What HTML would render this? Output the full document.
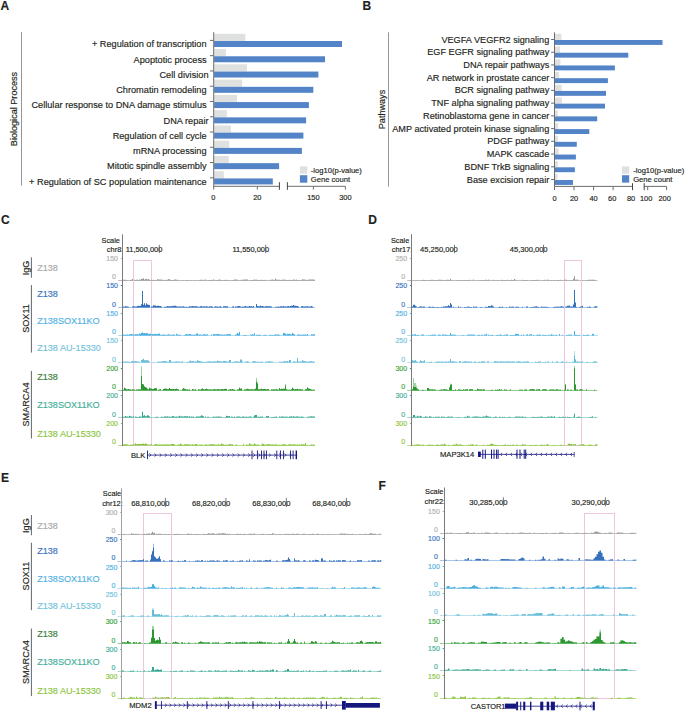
<!DOCTYPE html>
<html><head><meta charset="utf-8"><style>
html,body{margin:0;padding:0;background:#fff;}
svg{display:block;font-family:"Liberation Sans", sans-serif;}
text{stroke-width:0.16px;}
</style></head><body>
<svg width="685" height="712" viewBox="0 0 685 712">
<rect width="685" height="712" fill="#fff"/>
<text x="0.6" y="9.8" font-size="12" fill="#231f20" stroke="#231f20" font-weight="bold">A</text>
<text transform="translate(17.2,109) rotate(-90)" font-size="9.1" fill="#231f20" stroke="#231f20" text-anchor="middle">Biological Process</text>
<line x1="21.5" y1="32" x2="21.5" y2="185.6" stroke="#8a8a8a" stroke-width="0.9"/>
<rect x="214.1" y="33.8" width="31.2" height="7.2" fill="#dfe0e0"/>
<rect x="214.1" y="41" width="127.9" height="6" fill="#5284c7"/>
<line x1="210" y1="40.4" x2="213.8" y2="40.4" stroke="#444" stroke-width="0.8"/>
<text x="206.6" y="47.3" font-size="9.2" fill="#231f20" stroke="#231f20" text-anchor="end">+ Regulation of transcription</text>
<rect x="214.1" y="49.07" width="11.8" height="7.2" fill="#dfe0e0"/>
<rect x="214.1" y="56.27" width="110.9" height="6" fill="#5284c7"/>
<line x1="210" y1="55.67" x2="213.8" y2="55.67" stroke="#444" stroke-width="0.8"/>
<text x="206.6" y="62.57" font-size="9.2" fill="#231f20" stroke="#231f20" text-anchor="end">Apoptotic process</text>
<rect x="214.1" y="64.34" width="32.9" height="7.2" fill="#dfe0e0"/>
<rect x="214.1" y="71.54" width="104.3" height="6" fill="#5284c7"/>
<line x1="210" y1="70.94" x2="213.8" y2="70.94" stroke="#444" stroke-width="0.8"/>
<text x="208.5" y="77.84" font-size="9.2" fill="#231f20" stroke="#231f20" text-anchor="end">Cell division</text>
<rect x="214.1" y="79.61" width="28.1" height="7.2" fill="#dfe0e0"/>
<rect x="214.1" y="86.81" width="99.2" height="6" fill="#5284c7"/>
<line x1="210" y1="86.21" x2="213.8" y2="86.21" stroke="#444" stroke-width="0.8"/>
<text x="206.6" y="93.11" font-size="9.2" fill="#231f20" stroke="#231f20" text-anchor="end">Chromatin remodeling</text>
<rect x="214.1" y="94.88" width="22.9" height="7.2" fill="#dfe0e0"/>
<rect x="214.1" y="102.08" width="94.8" height="6" fill="#5284c7"/>
<line x1="210" y1="101.48" x2="213.8" y2="101.48" stroke="#444" stroke-width="0.8"/>
<text x="206.6" y="108.38" font-size="9.2" fill="#231f20" stroke="#231f20" text-anchor="end">Cellular response to DNA damage stimulus</text>
<rect x="214.1" y="110.15" width="12.8" height="7.2" fill="#dfe0e0"/>
<rect x="214.1" y="117.35" width="92" height="6" fill="#5284c7"/>
<line x1="210" y1="116.75" x2="213.8" y2="116.75" stroke="#444" stroke-width="0.8"/>
<text x="208.5" y="123.65" font-size="9.2" fill="#231f20" stroke="#231f20" text-anchor="end">DNA repair</text>
<rect x="214.1" y="125.42" width="16.9" height="7.2" fill="#dfe0e0"/>
<rect x="214.1" y="132.62" width="89.3" height="6" fill="#5284c7"/>
<line x1="210" y1="132.02" x2="213.8" y2="132.02" stroke="#444" stroke-width="0.8"/>
<text x="206.6" y="138.92" font-size="9.2" fill="#231f20" stroke="#231f20" text-anchor="end">Regulation of cell cycle</text>
<rect x="214.1" y="140.69" width="15.1" height="7.2" fill="#dfe0e0"/>
<rect x="214.1" y="147.89" width="87.8" height="6" fill="#5284c7"/>
<line x1="210" y1="147.29" x2="213.8" y2="147.29" stroke="#444" stroke-width="0.8"/>
<text x="206.6" y="154.19" font-size="9.2" fill="#231f20" stroke="#231f20" text-anchor="end">mRNA processing</text>
<rect x="214.1" y="155.96" width="14.7" height="7.2" fill="#dfe0e0"/>
<rect x="214.1" y="163.16" width="65" height="6" fill="#5284c7"/>
<line x1="210" y1="162.56" x2="213.8" y2="162.56" stroke="#444" stroke-width="0.8"/>
<text x="206.6" y="169.46" font-size="9.2" fill="#231f20" stroke="#231f20" text-anchor="end">Mitotic spindle assembly</text>
<rect x="214.1" y="171.23" width="9.7" height="7.2" fill="#dfe0e0"/>
<rect x="214.1" y="178.43" width="58.7" height="6" fill="#5284c7"/>
<line x1="210" y1="177.83" x2="213.8" y2="177.83" stroke="#444" stroke-width="0.8"/>
<text x="206.6" y="184.73" font-size="9.2" fill="#231f20" stroke="#231f20" text-anchor="end">+ Regulation of SC population maintenance</text>
<line x1="213.7" y1="32.2" x2="213.7" y2="189.6" stroke="#6d6d6d" stroke-width="1"/>
<line x1="213.7" y1="186.3" x2="279.4" y2="186.3" stroke="#6d6d6d" stroke-width="1"/>
<line x1="287.4" y1="186.3" x2="345.4" y2="186.3" stroke="#6d6d6d" stroke-width="1"/>
<line x1="257.3" y1="186.3" x2="257.3" y2="189.6" stroke="#6d6d6d" stroke-width="1"/>
<line x1="313.4" y1="186.3" x2="313.4" y2="189.6" stroke="#6d6d6d" stroke-width="1"/>
<line x1="345.4" y1="186.3" x2="345.4" y2="189.6" stroke="#6d6d6d" stroke-width="1"/>
<line x1="279.4" y1="182.2" x2="279.4" y2="189.8" stroke="#444" stroke-width="1"/>
<line x1="287.4" y1="182.2" x2="287.4" y2="189.8" stroke="#444" stroke-width="1"/>
<text x="213.3" y="199.6" font-size="7.4" fill="#231f20" stroke="#231f20" text-anchor="middle">0</text>
<text x="257.3" y="199.6" font-size="7.4" fill="#231f20" stroke="#231f20" text-anchor="middle">20</text>
<text x="313.4" y="199.6" font-size="7.4" fill="#231f20" stroke="#231f20" text-anchor="middle">150</text>
<text x="345.4" y="199.6" font-size="7.4" fill="#231f20" stroke="#231f20" text-anchor="middle">300</text>
<rect x="299.9" y="166.4" width="7.4" height="7.3" fill="#dfe0e0"/>
<rect x="299.9" y="175.2" width="7.4" height="7.5" fill="#5284c7"/>
<text x="310.8" y="172.9" font-size="7.6" fill="#231f20" stroke="#231f20">-log10(p-value)</text>
<text x="310.8" y="182.3" font-size="7.6" fill="#231f20" stroke="#231f20">Gene count</text>
<text x="362.6" y="9.8" font-size="12" fill="#231f20" stroke="#231f20" font-weight="bold">B</text>
<text transform="translate(385.2,109.5) rotate(-90)" font-size="9.1" fill="#231f20" stroke="#231f20" text-anchor="middle">Pathways</text>
<line x1="388.5" y1="32.3" x2="388.5" y2="186.6" stroke="#8a8a8a" stroke-width="0.9"/>
<rect x="554.9" y="33.8" width="6.5" height="6.1" fill="#dfe0e0"/>
<rect x="554.9" y="40" width="107.6" height="4.9" fill="#5284c7"/>
<line x1="551.1" y1="39.5" x2="554.5" y2="39.5" stroke="#444" stroke-width="0.8"/>
<text x="549.3" y="42.5" font-size="9.17" fill="#231f20" stroke="#231f20" text-anchor="end">VEGFA VEGFR2 signaling</text>
<rect x="554.9" y="46.53" width="5.1" height="6.1" fill="#dfe0e0"/>
<rect x="554.9" y="52.73" width="73.4" height="4.9" fill="#5284c7"/>
<line x1="551.1" y1="52.23" x2="554.5" y2="52.23" stroke="#444" stroke-width="0.8"/>
<text x="549.3" y="55.23" font-size="9.17" fill="#231f20" stroke="#231f20" text-anchor="end">EGF EGFR signaling pathway</text>
<rect x="554.9" y="59.26" width="5.5" height="6.1" fill="#dfe0e0"/>
<rect x="554.9" y="65.46" width="60" height="4.9" fill="#5284c7"/>
<line x1="551.1" y1="64.96" x2="554.5" y2="64.96" stroke="#444" stroke-width="0.8"/>
<text x="549.3" y="67.96" font-size="9.17" fill="#231f20" stroke="#231f20" text-anchor="end">DNA repair pathways</text>
<rect x="554.9" y="71.99" width="4.2" height="6.1" fill="#dfe0e0"/>
<rect x="554.9" y="78.19" width="53" height="4.9" fill="#5284c7"/>
<line x1="551.1" y1="77.69" x2="554.5" y2="77.69" stroke="#444" stroke-width="0.8"/>
<text x="549.3" y="80.69" font-size="9.17" fill="#231f20" stroke="#231f20" text-anchor="end">AR network in prostate cancer</text>
<rect x="554.9" y="84.72" width="6.7" height="6.1" fill="#dfe0e0"/>
<rect x="554.9" y="90.92" width="51.1" height="4.9" fill="#5284c7"/>
<line x1="551.1" y1="90.42" x2="554.5" y2="90.42" stroke="#444" stroke-width="0.8"/>
<text x="549.3" y="93.42" font-size="9.17" fill="#231f20" stroke="#231f20" text-anchor="end">BCR signaling pathway</text>
<rect x="554.9" y="97.45" width="7" height="6.1" fill="#dfe0e0"/>
<rect x="554.9" y="103.65" width="50.1" height="4.9" fill="#5284c7"/>
<line x1="551.1" y1="103.15" x2="554.5" y2="103.15" stroke="#444" stroke-width="0.8"/>
<text x="549.3" y="106.15" font-size="9.17" fill="#231f20" stroke="#231f20" text-anchor="end">TNF alpha signaling pathway</text>
<rect x="554.9" y="110.18" width="2.9" height="6.1" fill="#dfe0e0"/>
<rect x="554.9" y="116.38" width="42.3" height="4.9" fill="#5284c7"/>
<line x1="551.1" y1="115.88" x2="554.5" y2="115.88" stroke="#444" stroke-width="0.8"/>
<text x="549.3" y="118.88" font-size="9.17" fill="#231f20" stroke="#231f20" text-anchor="end">Retinoblastoma gene in cancer</text>
<rect x="554.9" y="122.91" width="3.3" height="6.1" fill="#dfe0e0"/>
<rect x="554.9" y="129.11" width="34.4" height="4.9" fill="#5284c7"/>
<line x1="551.1" y1="128.61" x2="554.5" y2="128.61" stroke="#444" stroke-width="0.8"/>
<text x="549.3" y="131.61" font-size="9.17" fill="#231f20" stroke="#231f20" text-anchor="end">AMP activated protein kinase signaling</text>
<rect x="554.9" y="135.64" width="2.9" height="6.1" fill="#dfe0e0"/>
<rect x="554.9" y="141.84" width="21.9" height="4.9" fill="#5284c7"/>
<line x1="551.1" y1="141.34" x2="554.5" y2="141.34" stroke="#444" stroke-width="0.8"/>
<text x="549.3" y="144.34" font-size="9.17" fill="#231f20" stroke="#231f20" text-anchor="end">PDGF pathway</text>
<rect x="554.9" y="148.37" width="3.8" height="6.1" fill="#dfe0e0"/>
<rect x="554.9" y="154.57" width="21" height="4.9" fill="#5284c7"/>
<line x1="551.1" y1="154.07" x2="554.5" y2="154.07" stroke="#444" stroke-width="0.8"/>
<text x="549.3" y="157.07" font-size="9.17" fill="#231f20" stroke="#231f20" text-anchor="end">MAPK cascade</text>
<rect x="554.9" y="161.1" width="2.9" height="6.1" fill="#dfe0e0"/>
<rect x="554.9" y="167.3" width="20" height="4.9" fill="#5284c7"/>
<line x1="551.1" y1="166.8" x2="554.5" y2="166.8" stroke="#444" stroke-width="0.8"/>
<text x="549.3" y="169.8" font-size="9.17" fill="#231f20" stroke="#231f20" text-anchor="end">BDNF TrkB signaling</text>
<rect x="554.9" y="173.83" width="2.6" height="6.1" fill="#dfe0e0"/>
<rect x="554.9" y="180.03" width="18.1" height="4.9" fill="#5284c7"/>
<line x1="551.1" y1="179.53" x2="554.5" y2="179.53" stroke="#444" stroke-width="0.8"/>
<text x="549.3" y="182.53" font-size="9.17" fill="#231f20" stroke="#231f20" text-anchor="end">Base excision repair</text>
<line x1="554.5" y1="32.4" x2="554.5" y2="190" stroke="#6d6d6d" stroke-width="1"/>
<line x1="554.5" y1="186.4" x2="632.5" y2="186.4" stroke="#6d6d6d" stroke-width="1"/>
<line x1="644.2" y1="186.4" x2="666.6" y2="186.4" stroke="#6d6d6d" stroke-width="1"/>
<line x1="574" y1="186.4" x2="574" y2="190.2" stroke="#6d6d6d" stroke-width="1"/>
<line x1="593.6" y1="186.4" x2="593.6" y2="190.2" stroke="#6d6d6d" stroke-width="1"/>
<line x1="613.1" y1="186.4" x2="613.1" y2="190.2" stroke="#6d6d6d" stroke-width="1"/>
<line x1="647.7" y1="186.4" x2="647.7" y2="190.2" stroke="#6d6d6d" stroke-width="1"/>
<line x1="666.6" y1="186.4" x2="666.6" y2="190.2" stroke="#6d6d6d" stroke-width="1"/>
<line x1="632.5" y1="183.2" x2="632.5" y2="190.2" stroke="#444" stroke-width="1"/>
<line x1="644.2" y1="183.2" x2="644.2" y2="190.2" stroke="#444" stroke-width="1"/>
<text x="554.5" y="200.5" font-size="7.4" fill="#231f20" stroke="#231f20" text-anchor="middle">0</text>
<text x="574" y="200.5" font-size="7.4" fill="#231f20" stroke="#231f20" text-anchor="middle">20</text>
<text x="593.6" y="200.5" font-size="7.4" fill="#231f20" stroke="#231f20" text-anchor="middle">40</text>
<text x="612.2" y="200.5" font-size="7.4" fill="#231f20" stroke="#231f20" text-anchor="middle">60</text>
<text x="631" y="200.5" font-size="7.4" fill="#231f20" stroke="#231f20" text-anchor="middle">80</text>
<text x="646.1" y="200.5" font-size="7.4" fill="#231f20" stroke="#231f20" text-anchor="middle">100</text>
<text x="664.6" y="200.5" font-size="7.4" fill="#231f20" stroke="#231f20" text-anchor="middle">200</text>
<rect x="622" y="166.4" width="7.2" height="7.3" fill="#dfe0e0"/>
<rect x="622" y="175.2" width="7.2" height="7.4" fill="#5284c7"/>
<text x="633.2" y="172.9" font-size="7.6" fill="#231f20" stroke="#231f20">-log10(p-value)</text>
<text x="633.2" y="181.9" font-size="7.6" fill="#231f20" stroke="#231f20">Gene count</text>
<text x="0.9" y="223.8" font-size="12" fill="#231f20" stroke="#231f20" font-weight="bold">C</text>
<line x1="31.4" y1="257.4" x2="31.4" y2="277.7" stroke="#555" stroke-width="0.9"/>
<line x1="31.4" y1="285.1" x2="31.4" y2="352.6" stroke="#555" stroke-width="0.9"/>
<line x1="31.4" y1="371" x2="31.4" y2="438.5" stroke="#555" stroke-width="0.9"/>
<text transform="translate(28.6,268) rotate(-90)" font-size="9.1" fill="#231f20" stroke="#231f20" text-anchor="middle">IgG</text>
<text transform="translate(28.8,318.5) rotate(-90)" font-size="9.1" fill="#231f20" stroke="#231f20" text-anchor="middle">SOX11</text>
<text transform="translate(28.8,404.5) rotate(-90)" font-size="9.1" fill="#231f20" stroke="#231f20" text-anchor="middle">SMARCA4</text>
<text x="37.2" y="271.2" font-size="9.1" fill="#a9a9a9" stroke="#a9a9a9">Z138</text>
<text x="37.2" y="296.7" font-size="9.1" fill="#3e74be" stroke="#3e74be">Z138</text>
<text x="37.2" y="324.4" font-size="9.1" fill="#52b3e4" stroke="#52b3e4">Z138SOX11KO</text>
<text x="37.2" y="351" font-size="9.1" fill="#74c3da" stroke="#74c3da">Z138 AU-15330</text>
<text x="37.2" y="379.6" font-size="9.1" fill="#3c803c" stroke="#3c803c">Z138</text>
<text x="37.2" y="407.6" font-size="9.1" fill="#45af9a" stroke="#45af9a">Z138SOX11KO</text>
<text x="37.2" y="436.5" font-size="9.1" fill="#8dc642" stroke="#8dc642">Z138 AU-15330</text>
<line x1="118.1" y1="280.5" x2="315" y2="280.5" stroke="#bcbcbc" stroke-width="1"/>
<line x1="118.1" y1="307.5" x2="315" y2="307.5" stroke="#a9c5e8" stroke-width="1"/>
<line x1="118.1" y1="335.5" x2="315" y2="335.5" stroke="#b2ddf2" stroke-width="1"/>
<line x1="118.1" y1="362.5" x2="315" y2="362.5" stroke="#bce2ee" stroke-width="1"/>
<line x1="118.1" y1="390.5" x2="315" y2="390.5" stroke="#92cf95" stroke-width="1"/>
<line x1="118.1" y1="417.5" x2="315" y2="417.5" stroke="#a9dad0" stroke-width="1"/>
<line x1="118.1" y1="445.5" x2="315" y2="445.5" stroke="#b8dc85" stroke-width="1"/>
<rect x="133.5" y="260.5" width="18" height="185" fill="none" stroke="#eec6e0" stroke-width="1"/>
<text x="119.9" y="242.7" font-size="7.35" fill="#231f20" stroke="#231f20" text-anchor="end">Scale</text>
<text x="123.3" y="251.9" font-size="7.4" fill="#231f20" stroke="#231f20" text-anchor="end">chr8:</text>
<line x1="122.5" y1="234.3" x2="122.5" y2="446.08" stroke="#7a7a7a" stroke-width="1"/>
<text x="125.7" y="251.9" font-size="7.45" fill="#231f20" stroke="#231f20">11,500,000</text>
<line x1="159.3" y1="244.8" x2="159.3" y2="253.2" stroke="#555" stroke-width="0.8"/>
<text x="232.4" y="251.9" font-size="7.45" fill="#231f20" stroke="#231f20">11,550,000</text>
<line x1="265.7" y1="244.8" x2="265.7" y2="253.2" stroke="#555" stroke-width="0.8"/>
<text x="118" y="261" font-size="7" fill="#b0b0b0" stroke="#b0b0b0" text-anchor="end">150</text>
<text x="116" y="279.1" font-size="7" fill="#b0b0b0" stroke="#b0b0b0" text-anchor="end">0</text>
<line x1="120.8" y1="258.5" x2="122" y2="258.5" stroke="#b0b0b0" stroke-width="1"/>
<text x="118" y="288.48" font-size="7" fill="#3e74be" stroke="#3e74be" text-anchor="end">150</text>
<text x="116" y="306.58" font-size="7" fill="#3e74be" stroke="#3e74be" text-anchor="end">0</text>
<line x1="120.8" y1="285.5" x2="122" y2="285.5" stroke="#3e74be" stroke-width="1"/>
<text x="118" y="315.96" font-size="7" fill="#52b3e4" stroke="#52b3e4" text-anchor="end">150</text>
<text x="116" y="334.06" font-size="7" fill="#52b3e4" stroke="#52b3e4" text-anchor="end">0</text>
<line x1="120.8" y1="313.5" x2="122" y2="313.5" stroke="#52b3e4" stroke-width="1"/>
<text x="118" y="343.44" font-size="7" fill="#74c3da" stroke="#74c3da" text-anchor="end">150</text>
<text x="116" y="361.54" font-size="7" fill="#74c3da" stroke="#74c3da" text-anchor="end">0</text>
<line x1="120.8" y1="340.5" x2="122" y2="340.5" stroke="#74c3da" stroke-width="1"/>
<text x="118" y="370.92" font-size="7" fill="#3ca53c" stroke="#3ca53c" text-anchor="end">200</text>
<text x="116" y="389.02" font-size="7" fill="#3ca53c" stroke="#3ca53c" text-anchor="end">0</text>
<line x1="120.8" y1="368.5" x2="122" y2="368.5" stroke="#3ca53c" stroke-width="1"/>
<text x="118" y="398.4" font-size="7" fill="#45af9a" stroke="#45af9a" text-anchor="end">200</text>
<text x="116" y="416.5" font-size="7" fill="#45af9a" stroke="#45af9a" text-anchor="end">0</text>
<line x1="120.8" y1="395.5" x2="122" y2="395.5" stroke="#45af9a" stroke-width="1"/>
<text x="118" y="425.88" font-size="7" fill="#8dc642" stroke="#8dc642" text-anchor="end">200</text>
<text x="116" y="443.98" font-size="7" fill="#8dc642" stroke="#8dc642" text-anchor="end">0</text>
<line x1="120.8" y1="423.5" x2="122" y2="423.5" stroke="#8dc642" stroke-width="1"/>
<path d="M123,280.5V279.82H124V279.81H125V279.8H126V279.98H127V280.5H128V280.5H129V280.5H130V279.89H131V279.71H132V278.94H133V280.5H134V279.78H135V279.93H136V279.84H137V279.87H138V280.01H139V279.47H140V279.82H141V279.01H142V278.83H143V278.3H144V279.68H145V278.99H146V278.9H147V279.51H148V278.97H149V279.8H150V279.94H151V279.69H152V279.89H153V279.77H154V279.92H155V279.94H156V280.5H157V279.36H158V279.54H159V279.49H160V279.6H161V279.65H162V279.67H163V279.8H164V280.5H165V280.12H166V279.83H167V279.77H168V279.11H169V279.46H170V279.76H171V279.97H172V280.06H173V279.88H174V279.61H175V279.61H176V279.69H177V279.64H178V280.5H179V280.5H180V280.5H181V280.5H182V280.03H183V280.5H184V280.5H185V280.5H186V280.12H187V280.11H188V280.12H189V280.5H190V280.5H191V280.12H192V280.5H193V280.5H194V280.5H195V279.9H196V280.5H197V280.5H198V280.5H199V280.05H200V279.66H201V279.76H202V279.78H203V280.5H204V279.83H205V279.56H206V280.5H207V280.5H208V279.88H209V279.92H210V279.98H211V279.81H212V279.95H213V279.62H214V279.8H215V280.5H216V280.05H217V280.02H218V279.84H219V279.62H220V279.67H221V279.93H222V279.96H223V280.5H224V280.08H225V279.77H226V279.95H227V279.8H228V280.5H229V279.95H230V280.5H231V280.5H232V280.12H233V279.93H234V279.56H235V279.58H236V279.47H237V279.79H238V280.5H239V280.5H240V280.5H241V279.71H242V279.79H243V279.67H244V279.62H245V279.43H246V279.47H247V279.45H248V280.5H249V280.5H250V279.98H251V280.01H252V280.08H253V279.68H254V279.51H255V279.71H256V279.66H257V279.71H258V279.91H259V279.97H260V279.66H261V279.9H262V279.85H263V280.01H264V280.08H265V279.63H266V280.5H267V280.5H268V280.5H269V280.5H270V279.69H271V279.87H272V279.6H273V279.7H274V279.94H275V278.84H276V279.56H277V279.82H278V279.77H279V279.67H280V279.93H281V279.8H282V279.79H283V279.78H284V279.54H285V279.83H286V279.96H287V280.04H288V280.09H289V279.67H290V279.88H291V280.01H292V279.71H293V279.69H294V279.56H295V279.88H296V279.6H297V279.88H298V279.94H299V280.03H300V280.5H301V279.96H302V279.34H303V279.4H304V279.49H305V279.81H306V280.5H307V279.82H308V279.86H309V279.54H310V279.44H311V279.46H312V279.43H313V279.48H314V279.84H315V280.5Z" fill="#9a9a9a"/>
<path d="M123,307.5V306.39H124V306.71H125V306.3H126V306.34H127V306.46H128V306.73H129V307.5H130V307.5H131V307.5H132V306.51H133V306.1H134V306.49H135V306.52H136V306.46H137V306.02H138V305.63H139V305.95H140V305.86H141V304.31H142V290.9H143V304.63H144V303.2H145V305.24H146V303.2H147V304.61H148V304.75H149V305.11H150V307.5H151V306.47H152V306.58H153V305.31H154V305.58H155V305.4H156V305.9H157V305.85H158V305.7H159V305.9H160V305.97H161V306.58H162V307.5H163V307.5H164V306.65H165V306.74H166V306.43H167V306.1H168V306.35H169V306.31H170V306.17H171V305.97H172V306.35H173V305.68H174V305.75H175V305.77H176V306.24H177V306.5H178V306.45H179V306.43H180V306.62H181V306.38H182V306.56H183V306.37H184V306.7H185V306.78H186V306.79H187V306.89H188V306.86H189V306.26H190V306.6H191V306.22H192V306.04H193V306.24H194V306.22H195V306.31H196V306.2H197V306.45H198V306.64H199V306.82H200V306.23H201V306.02H202V306.51H203V306.39H204V306.34H205V306.5H206V306.21H207V306.52H208V306.76H209V306.31H210V306.54H211V306.2H212V306.62H213V307.5H214V306.86H215V306.2H216V306.62H217V306.54H218V306.78H219V306.62H220V306.23H221V306.64H222V307.5H223V306.34H224V306.26H225V306.28H226V306.26H227V306.29H228V307.5H229V307.5H230V307.5H231V307.5H232V306.56H233V306.3H234V307.5H235V306.39H236V306.55H237V306.24H238V305.99H239V306.09H240V306.54H241V306.66H242V306.6H243V306.66H244V306.21H245V306H246V306.52H247V306.44H248V306.5H249V306.03H250V306.27H251V306.28H252V306.47H253V306.06H254V307.5H255V307.5H256V304H257V306.08H258V306.24H259V306.23H260V305.48H261V306.27H262V305.93H263V306.27H264V306.56H265V306.39H266V306.01H267V306.34H268V306.23H269V306.34H270V306.27H271V306.48H272V307.5H273V307.5H274V307.5H275V306.74H276V306.82H277V306.76H278V306.53H279V306.63H280V306.25H281V306.28H282V306.57H283V306.12H284V306.52H285V306.45H286V306.43H287V306.35H288V306.11H289V306.58H290V306.05H291V305.86H292V305.85H293V305.02H294V305.71H295V305.86H296V305.95H297V306.11H298V306.56H299V307.5H300V307.5H301V306.23H302V306.07H303V306.48H304V306.62H305V306.32H306V306.55H307V306.34H308V306.51H309V306.55H310V306.47H311V306.1H312V306.44H313V307.5H314V307.5H315V307.5Z" fill="#3470bb"/>
<path d="M123,335.5V334.41H124V334.66H125V334.75H126V334.59H127V334.59H128V334.81H129V334.32H130V334.14H131V334.09H132V334.32H133V334.47H134V334.62H135V334.3H136V334.37H137V334.3H138V334.6H139V333.5H140V333.76H141V333.08H142V332.61H143V333.33H144V332.94H145V333.57H146V333.07H147V333.33H148V334.09H149V333.83H150V333.87H151V334.41H152V334.04H153V334.27H154V333.98H155V333.66H156V334.23H157V334.05H158V333.86H159V333.6H160V334.82H161V334.81H162V334.81H163V334.25H164V334.64H165V334.83H166V334.66H167V334.72H168V334.28H169V334.59H170V334.8H171V334.68H172V334.84H173V334.4H174V334.42H175V335.5H176V333.77H177V334.43H178V334.73H179V334.78H180V334.82H181V335.5H182V335.5H183V335.5H184V334.92H185V334.43H186V334.06H187V334.24H188V334.62H189V334.11H190V334.23H191V334.52H192V334.64H193V334.72H194V334.56H195V334.65H196V333.5H197V333.5H198V334.42H199V334.43H200V334.49H201V334.76H202V334.86H203V334.33H204V334.14H205V334.22H206V334.64H207V334.27H208V335.5H209V335.5H210V335.5H211V334.48H212V335.5H213V334.03H214V334.07H215V334.57H216V334.17H217V333.99H218V333.99H219V334.13H220V334.56H221V334.79H222V334.62H223V334.64H224V334.5H225V334.54H226V334.38H227V334.03H228V334.35H229V334H230V334.22H231V335.5H232V335.5H233V335.5H234V335.5H235V334.83H236V334.27H237V332.91H238V333.66H239V332H240V335.5H241V335.5H242V335.5H243V334.95H244V334.91H245V334.93H246V334.93H247V335.5H248V335.5H249V335.5H250V334.48H251V334.63H252V334.3H253V334.56H254V333.31H255V335.5H256V334.85H257V334.79H258V334.87H259V334.73H260V334.72H261V335.5H262V335.5H263V334.93H264V334.73H265V334.88H266V334.89H267V335.5H268V335.5H269V334.8H270V334.85H271V334.91H272V334.92H273V334.91H274V334.76H275V334.16H276V334.56H277V334.79H278V334.33H279V334.65H280V335.5H281V335.5H282V335.5H283V333H284V333H285V333.77H286V334.39H287V333.73H288V333.9H289V333.74H290V334.2H291V334.43H292V333.01H293V333.76H294V334.16H295V335.5H296V335.5H297V334.86H298V334.28H299V334.67H300V334.38H301V334.67H302V334.84H303V334.49H304V334.5H305V334.52H306V334.77H307V333.91H308V335.5H309V335.5H310V335.5H311V334.24H312V334.5H313V334.28H314V334.34H315V335.5Z" fill="#48aee0"/>
<path d="M123,362.5V361.43H124V361.64H125V361.46H126V361.57H127V361.73H128V361.78H129V361.86H130V361.89H131V361.34H132V361.04H133V361.35H134V361.3H135V361.33H136V361.13H137V361.38H138V361.47H139V361.74H140V362.5H141V360.34H142V359.85H143V358.7H144V360.32H145V360.27H146V360.2H147V360.35H148V360.41H149V361.77H150V362.5H151V362.5H152V362.5H153V361.88H154V362.5H155V362.5H156V362.5H157V361.86H158V361.44H159V361.68H160V361.75H161V361.28H162V361.51H163V361.15H164V361.08H165V360.94H166V361.39H167V361.63H168V361.69H169V360H170V360H171V361.74H172V361.72H173V361.79H174V361.87H175V361.57H176V361.18H177V361.63H178V361.6H179V361.81H180V361.63H181V361.63H182V361.3H183V362.5H184V362.5H185V362.5H186V361.94H187V361.98H188V361.74H189V361.22H190V360.57H191V361.27H192V361.08H193V361.37H194V361.72H195V361.36H196V361.44H197V360.2H198V360.87H199V361.09H200V361.15H201V361.38H202V361.69H203V361.76H204V361.88H205V361.94H206V361.6H207V361.74H208V361.46H209V361.35H210V361.47H211V361.51H212V361.72H213V361.32H214V361.41H215V361.34H216V361.53H217V360.44H218V361.29H219V361.08H220V361.35H221V361.55H222V361.64H223V361.1H224V361H225V361.06H226V361.49H227V361.75H228V361.41H229V360H230V360H231V362.5H232V361.88H233V361.66H234V361.57H235V361.45H236V361.3H237V361.6H238V361.58H239V361.8H240V359.5H241V359.5H242V361.42H243V362.5H244V362.5H245V361.51H246V361.49H247V361.15H248V361.61H249V362.5H250V362.5H251V362.5H252V361.45H253V361.34H254V361.07H255V361.46H256V361.7H257V361.78H258V361.83H259V361.93H260V361.84H261V361.85H262V361.42H263V362.5H264V362.5H265V361.87H266V361.49H267V361.7H268V361.22H269V361.33H270V361.45H271V361.47H272V361.47H273V362.5H274V362.5H275V362.5H276V362.5H277V362.5H278V362.5H279V361.76H280V361.71H281V361.78H282V361.64H283V361.39H284V361.09H285V361.37H286V361.48H287V361.12H288V361.49H289V360H290V360H291V362.5H292V362.5H293V361.51H294V361.37H295V361.68H296V361.85H297V358.1H298V361.49H299V361.38H300V361.38H301V361.38H302V360.17H303V360.75H304V360.93H305V361.52H306V361.55H307V361.69H308V361.62H309V361.37H310V361.37H311V361.31H312V361.44H313V361.54H314V361.68H315V362.5Z" fill="#64bcd6"/>
<path d="M123,390.5V389.71H124V387.72H125V388.43H126V389.13H127V389.41H128V389H129V389.4H130V389.57H131V389.73H132V389.44H133V389.46H134V389.39H135V390.5H136V389.44H137V389.69H138V389.13H139V389.54H140V389.59H141V366.3H142V384H143V384.61H144V386.56H145V387.15H146V387.74H147V388.78H148V389.4H149V387.8H150V388.56H151V388.73H152V388.9H153V388.94H154V388.15H155V388.12H156V388.53H157V390.5H158V389.87H159V389.56H160V389.35H161V390.5H162V390.5H163V389.12H164V388.87H165V388.78H166V388.68H167V389.17H168V389.27H169V387.99H170V388.98H171V389.02H172V388.94H173V389.1H174V389.2H175V389.07H176V388.84H177V389.19H178V389.44H179V390.5H180V390.5H181V390.5H182V389.3H183V388.1H184V388.82H185V389.25H186V389.4H187V389.61H188V389.7H189V389.52H190V390.5H191V390.5H192V389.05H193V389.52H194V389.66H195V389.37H196V390.5H197V390.5H198V389.46H199V389.44H200V389.65H201V389.05H202V388.55H203V389.22H204V389.56H205V389.02H206V388.74H207V389.22H208V389.53H209V389.46H210V389.4H211V389.56H212V389.65H213V389.33H214V389.09H215V389.43H216V389.51H217V389.14H218V389.01H219V389.43H220V389.59H221V389.09H222V389.23H223V389.14H224V388.89H225V388.64H226V388.93H227V390.5H228V389.64H229V389.39H230V389.21H231V389.59H232V389.1H233V389.53H234V389.69H235V390.5H236V390.5H237V389.52H238V389.38H239V387.69H240V388.78H241V388.48H242V390.5H243V390.5H244V389.56H245V389.43H246V389.16H247V388.82H248V389.1H249V389.46H250V389.56H251V389.12H252V389.49H253V389.45H254V389.26H255V388.86H256V377.9H257V382.5H258V389.32H259V389.34H260V389.19H261V388.75H262V389.36H263V388.99H264V388.95H265V389.01H266V389.39H267V389.28H268V388.97H269V390.5H270V390.5H271V389.43H272V389.59H273V389.5H274V389.51H275V389.48H276V389.35H277V389.62H278V389.7H279V388.36H280V389.17H281V388.86H282V389.07H283V388.83H284V388.83H285V384.1H286V389.3H287V389.63H288V389.68H289V389.78H290V389.64H291V389.14H292V387.67H293V388.84H294V389.41H295V388.98H296V389.32H297V388.86H298V389.42H299V389.35H300V389.24H301V389.52H302V389.62H303V390.5H304V390.5H305V389.27H306V389.16H307V387.56H308V388.5H309V388.74H310V389.37H311V389.55H312V389.67H313V389.63H314V389.77H315V390.5Z" fill="#9fd3a1"/>
<path d="M123,390.5V389.71H124V387.72H125V388.43H126V389.13H127V389.41H128V389H129V389.4H130V389.57H131V389.73H132V389.44H133V389.46H134V389.39H135V390.5H136V389.44H137V389.69H138V389.13H139V389.54H140V389.59H141V376.2H142V384H143V384.61H144V386.56H145V387.15H146V387.74H147V388.78H148V389.4H149V387.8H150V388.56H151V388.73H152V388.9H153V388.94H154V388.15H155V388.12H156V388.53H157V390.5H158V389.87H159V389.56H160V389.35H161V390.5H162V390.5H163V389.12H164V388.87H165V388.78H166V388.68H167V389.17H168V389.27H169V387.99H170V388.98H171V389.02H172V388.94H173V389.1H174V389.2H175V389.07H176V388.84H177V389.19H178V389.44H179V390.5H180V390.5H181V390.5H182V389.3H183V388.1H184V388.82H185V389.25H186V389.4H187V389.61H188V389.7H189V389.52H190V390.5H191V390.5H192V389.05H193V389.52H194V389.66H195V389.37H196V390.5H197V390.5H198V389.46H199V389.44H200V389.65H201V389.05H202V388.55H203V389.22H204V389.56H205V389.02H206V388.74H207V389.22H208V389.53H209V389.46H210V389.4H211V389.56H212V389.65H213V389.33H214V389.09H215V389.43H216V389.51H217V389.14H218V389.01H219V389.43H220V389.59H221V389.09H222V389.23H223V389.14H224V388.89H225V388.64H226V388.93H227V390.5H228V389.64H229V389.39H230V389.21H231V389.59H232V389.1H233V389.53H234V389.69H235V390.5H236V390.5H237V389.52H238V389.38H239V387.69H240V388.78H241V388.48H242V390.5H243V390.5H244V389.56H245V389.43H246V389.16H247V388.82H248V389.1H249V389.46H250V389.56H251V389.12H252V389.49H253V389.45H254V389.26H255V388.86H256V381.5H257V383.5H258V389.32H259V389.34H260V389.19H261V388.75H262V389.36H263V388.99H264V388.95H265V389.01H266V389.39H267V389.28H268V388.97H269V390.5H270V390.5H271V389.43H272V389.59H273V389.5H274V389.51H275V389.48H276V389.35H277V389.62H278V389.7H279V388.36H280V389.17H281V388.86H282V389.07H283V388.83H284V388.83H285V385.5H286V389.3H287V389.63H288V389.68H289V389.78H290V389.64H291V389.14H292V387.67H293V388.84H294V389.41H295V388.98H296V389.32H297V388.86H298V389.42H299V389.35H300V389.24H301V389.52H302V389.62H303V390.5H304V390.5H305V389.27H306V389.16H307V387.56H308V388.5H309V388.74H310V389.37H311V389.55H312V389.67H313V389.63H314V389.77H315V390.5Z" fill="#2b982f"/>
<path d="M123,417.5V416.67H124V416.69H125V415.89H126V416.39H127V416.62H128V416.76H129V415.87H130V416.18H131V416.53H132V416.67H133V416.28H134V417.5H135V416.55H136V416.78H137V416.91H138V416.98H139V416.45H140V416.56H141V416.82H142V411.8H143V415.75H144V415.34H145V416.26H146V416.36H147V415.31H148V415.45H149V416.22H150V417.5H151V416.92H152V417.5H153V417.5H154V417.5H155V416.98H156V416.83H157V416.73H158V417.5H159V417.5H160V417.5H161V416.65H162V416.84H163V416.92H164V416.49H165V416.26H166V416.63H167V416.34H168V416.72H169V416.55H170V416.7H171V416.67H172V416.1H173V416.25H174V416.47H175V416.78H176V416.52H177V416.73H178V416.57H179V415.86H180V416.51H181V416.2H182V416.42H183V416.4H184V416.19H185V416.19H186V416.36H187V416.31H188V416.71H189V416.25H190V416.64H191V416.43H192V416.68H193V416.48H194V417.5H195V416.97H196V416.59H197V416.46H198V416.46H199V416.58H200V416.34H201V415.31H202V415.82H203V416.24H204V417.5H205V416.41H206V417.5H207V416.67H208V416.87H209V417.5H210V417.5H211V417.5H212V416.95H213V416.38H214V416.74H215V416.64H216V416.54H217V416.77H218V416.6H219V416.46H220V416.66H221V416.67H222V417.5H223V417.5H224V417.5H225V416.89H226V415.74H227V415.91H228V416.32H229V416.11H230V417.5H231V416.55H232V416.74H233V416.88H234V416.43H235V417.5H236V416.71H237V416.54H238V416.55H239V416.54H240V416.75H241V416.91H242V416.6H243V416.53H244V416.75H245V416.86H246V416.65H247V416.82H248V416.76H249V416.43H250V416.38H251V416.68H252V417.5H253V416.81H254V415.47H255V415H256V415H257V416.85H258V416.87H259V416.8H260V416.59H261V416.84H262V416.61H263V417.5H264V417.5H265V417.5H266V415.98H267V416.32H268V416.07H269V417.5H270V417.5H271V416.89H272V416.97H273V416.91H274V416.67H275V416.79H276V416.51H277V417.5H278V417.5H279V416.58H280V416.68H281V416.56H282V416.42H283V416.46H284V416.72H285V416.86H286V416.57H287V416.74H288V416.9H289V416.59H290V416.56H291V416.25H292V416.68H293V416.32H294V416.57H295V416.69H296V416.44H297V416.24H298V416.64H299V416.69H300V416.69H301V416.59H302V416.64H303V416.7H304V417.5H305V417.5H306V417.5H307V416.66H308V416.86H309V416.39H310V416.59H311V416.3H312V416.51H313V416.43H314V416.55H315V417.5Z" fill="#36a690"/>
<path d="M123,445.5V444.38H124V444.28H125V444.34H126V444.27H127V444.55H128V444.63H129V445.5H130V444.59H131V444.75H132V444.55H133V444.2H134V444.61H135V443.31H136V444.24H137V444.04H138V444.04H139V443.95H140V443.94H141V443.88H142V443.6H143V443.77H144V443.9H145V443.51H146V443.85H147V444.43H148V444.58H149V444.78H150V444.39H151V444.15H152V445.5H153V445.5H154V444.53H155V444.12H156V444.27H157V444.58H158V444.4H159V444.5H160V444.58H161V444.74H162V444.27H163V444.38H164V444.6H165V444.54H166V444.14H167V444.47H168V444.51H169V444.38H170V444.52H171V444.02H172V443.92H173V444.08H174V444.34H175V445.5H176V445.5H177V444.87H178V444.49H179V444.56H180V443.38H181V444.25H182V444.67H183V444.71H184V444.22H185V444.39H186V444.29H187V444.15H188V444.6H189V444.33H190V444.69H191V444.64H192V444.21H193V444.64H194V444.38H195V444.36H196V444.12H197V444.5H198V445.5H199V444.58H200V444.69H201V444.39H202V444.64H203V445.5H204V444.67H205V444.39H206V444.62H207V444.8H208V444.75H209V444.55H210V444.36H211V444.15H212V444.35H213V444.55H214V444.17H215V444.64H216V444.7H217V444.55H218V444.35H219V444.66H220V444.45H221V443.38H222V444.13H223V444.31H224V444.68H225V444.69H226V444.73H227V444.75H228V444.5H229V444.24H230V444.01H231V444.53H232V444.27H233V445.5H234V445.5H235V444.63H236V444.58H237V445.5H238V445.5H239V445.5H240V445.5H241V445.5H242V445.5H243V444.01H244V445.5H245V445.5H246V444.42H247V444.72H248V444.75H249V443.26H250V444.2H251V444.48H252V444.77H253V444.47H254V443.45H255V444.21H256V444.64H257V444.49H258V444.5H259V445.5H260V445.5H261V444.86H262V443.4H263V444.02H264V444.54H265V444.76H266V444.52H267V444.17H268V444.2H269V444.19H270V444.46H271V444.46H272V444.44H273V444.62H274V444.71H275V444.37H276V444.52H277V444.79H278V444.82H279V444.77H280V444.63H281V444.85H282V444.54H283V444.25H284V444.34H285V444.61H286V444.8H287V444.88H288V444.39H289V444.34H290V444.34H291V444.49H292V444.58H293V444.26H294V444.59H295V444.56H296V444.72H297V444.31H298V444.63H299V444.43H300V444.67H301V444.27H302V444.44H303V444.26H304V444.42H305V443.06H306V445.5H307V444.69H308V445.5H309V445.5H310V444.85H311V444.41H312V444.66H313V444.5H314V444.71H315V445.5Z" fill="#86c43a"/>
<text x="130.9" y="457.9" font-size="7.6" fill="#231f20" stroke="#231f20">BLK</text>
<line x1="147.4" y1="455.1" x2="297.2" y2="455.1" stroke="#16167f" stroke-width="0.8"/>
<path d="M149.3,453.5L151,455.1L149.3,456.7M154.5,453.5L156.2,455.1L154.5,456.7M159.7,453.5L161.4,455.1L159.7,456.7M164.9,453.5L166.6,455.1L164.9,456.7M170.1,453.5L171.8,455.1L170.1,456.7M175.3,453.5L177,455.1L175.3,456.7M180.5,453.5L182.2,455.1L180.5,456.7M185.7,453.5L187.4,455.1L185.7,456.7M190.9,453.5L192.6,455.1L190.9,456.7M196.1,453.5L197.8,455.1L196.1,456.7M201.3,453.5L203,455.1L201.3,456.7M206.5,453.5L208.2,455.1L206.5,456.7M211.7,453.5L213.4,455.1L211.7,456.7M216.9,453.5L218.6,455.1L216.9,456.7M222.1,453.5L223.8,455.1L222.1,456.7M227.3,453.5L229,455.1L227.3,456.7M232.5,453.5L234.2,455.1L232.5,456.7M237.7,453.5L239.4,455.1L237.7,456.7M242.9,453.5L244.6,455.1L242.9,456.7M248.1,453.5L249.8,455.1L248.1,456.7M253.3,453.5L255,455.1L253.3,456.7M258.5,453.5L260.2,455.1L258.5,456.7M263.7,453.5L265.4,455.1L263.7,456.7M268.9,453.5L270.6,455.1L268.9,456.7M274.1,453.5L275.8,455.1L274.1,456.7M279.3,453.5L281,455.1L279.3,456.7M284.5,453.5L286.2,455.1L284.5,456.7M289.7,453.5L291.4,455.1L289.7,456.7" fill="none" stroke="#16167f" stroke-width="0.7"/>
<rect x="147" y="450.5" width="0.9" height="8.7" fill="#16167f"/>
<rect x="251.55" y="450.5" width="0.9" height="8.7" fill="#16167f"/>
<rect x="256.95" y="450.5" width="0.9" height="8.7" fill="#16167f"/>
<rect x="261.05" y="450.5" width="0.9" height="8.7" fill="#16167f"/>
<rect x="263.55" y="450.5" width="0.9" height="8.7" fill="#16167f"/>
<rect x="265.95" y="450.5" width="0.9" height="8.7" fill="#16167f"/>
<rect x="276.35" y="450.5" width="0.9" height="8.7" fill="#16167f"/>
<rect x="279.95" y="450.5" width="0.9" height="8.7" fill="#16167f"/>
<rect x="282.95" y="450.5" width="0.9" height="8.7" fill="#16167f"/>
<rect x="290.15" y="450.5" width="0.9" height="8.7" fill="#16167f"/>
<rect x="292.65" y="450.5" width="0.9" height="8.7" fill="#16167f"/>
<rect x="295.6" y="450.5" width="1.4" height="8.7" fill="#16167f"/>
<text x="368.3" y="224" font-size="12" fill="#231f20" stroke="#231f20" font-weight="bold">D</text>
<line x1="407.2" y1="280.5" x2="597.4" y2="280.5" stroke="#bcbcbc" stroke-width="1"/>
<line x1="407.2" y1="307.5" x2="597.4" y2="307.5" stroke="#a9c5e8" stroke-width="1"/>
<line x1="407.2" y1="335.5" x2="597.4" y2="335.5" stroke="#b2ddf2" stroke-width="1"/>
<line x1="407.2" y1="362.5" x2="597.4" y2="362.5" stroke="#bce2ee" stroke-width="1"/>
<line x1="407.2" y1="390.5" x2="597.4" y2="390.5" stroke="#92cf95" stroke-width="1"/>
<line x1="407.2" y1="417.5" x2="597.4" y2="417.5" stroke="#a9dad0" stroke-width="1"/>
<line x1="407.2" y1="445.5" x2="597.4" y2="445.5" stroke="#b8dc85" stroke-width="1"/>
<rect x="564.5" y="260.5" width="17" height="185" fill="none" stroke="#eec6e0" stroke-width="1"/>
<text x="409.3" y="242.7" font-size="7.35" fill="#231f20" stroke="#231f20" text-anchor="end">Scale</text>
<text x="412.4" y="251.9" font-size="7.4" fill="#231f20" stroke="#231f20" text-anchor="end">chr17:</text>
<line x1="411.5" y1="234.2" x2="411.5" y2="446.1" stroke="#7a7a7a" stroke-width="1"/>
<text x="420" y="251.9" font-size="7.55" fill="#231f20" stroke="#231f20">45,250,000</text>
<line x1="454.5" y1="244.8" x2="454.5" y2="253.2" stroke="#555" stroke-width="0.8"/>
<text x="509.8" y="251.9" font-size="7.55" fill="#231f20" stroke="#231f20">45,300,000</text>
<line x1="543.5" y1="244.8" x2="543.5" y2="253.2" stroke="#555" stroke-width="0.8"/>
<text x="407.1" y="260.9" font-size="7" fill="#b0b0b0" stroke="#b0b0b0" text-anchor="end">250</text>
<text x="405.1" y="279" font-size="7" fill="#b0b0b0" stroke="#b0b0b0" text-anchor="end">0</text>
<line x1="409.9" y1="258.5" x2="411" y2="258.5" stroke="#b0b0b0" stroke-width="1"/>
<text x="407.1" y="288.4" font-size="7" fill="#3e74be" stroke="#3e74be" text-anchor="end">250</text>
<text x="405.1" y="306.5" font-size="7" fill="#3e74be" stroke="#3e74be" text-anchor="end">0</text>
<line x1="409.9" y1="285.5" x2="411" y2="285.5" stroke="#3e74be" stroke-width="1"/>
<text x="407.1" y="315.9" font-size="7" fill="#52b3e4" stroke="#52b3e4" text-anchor="end">250</text>
<text x="405.1" y="334" font-size="7" fill="#52b3e4" stroke="#52b3e4" text-anchor="end">0</text>
<line x1="409.9" y1="313.5" x2="411" y2="313.5" stroke="#52b3e4" stroke-width="1"/>
<text x="407.1" y="343.4" font-size="7" fill="#74c3da" stroke="#74c3da" text-anchor="end">250</text>
<text x="405.1" y="361.5" font-size="7" fill="#74c3da" stroke="#74c3da" text-anchor="end">0</text>
<line x1="409.9" y1="340.5" x2="411" y2="340.5" stroke="#74c3da" stroke-width="1"/>
<text x="407.1" y="370.9" font-size="7" fill="#3ca53c" stroke="#3ca53c" text-anchor="end">300</text>
<text x="405.1" y="389" font-size="7" fill="#3ca53c" stroke="#3ca53c" text-anchor="end">0</text>
<line x1="409.9" y1="368.5" x2="411" y2="368.5" stroke="#3ca53c" stroke-width="1"/>
<text x="407.1" y="398.4" font-size="7" fill="#45af9a" stroke="#45af9a" text-anchor="end">300</text>
<text x="405.1" y="416.5" font-size="7" fill="#45af9a" stroke="#45af9a" text-anchor="end">0</text>
<line x1="409.9" y1="395.5" x2="411" y2="395.5" stroke="#45af9a" stroke-width="1"/>
<text x="407.1" y="425.9" font-size="7" fill="#8dc642" stroke="#8dc642" text-anchor="end">300</text>
<text x="405.1" y="444" font-size="7" fill="#8dc642" stroke="#8dc642" text-anchor="end">0</text>
<line x1="409.9" y1="423.5" x2="411" y2="423.5" stroke="#8dc642" stroke-width="1"/>
<path d="M412,280.5V280.5H413V280.5H414V280.5H415V280.13H416V280.04H417V280.5H418V280.5H419V280.5H420V280.2H421V280.2H422V279.93H423V279.83H424V280.04H425V280.12H426V280.15H427V280.5H428V280.03H429V279.89H430V280.02H431V279.75H432V279.74H433V279.98H434V280.07H435V280.04H436V280.03H437V280.13H438V279.79H439V279.85H440V279.86H441V280.02H442V279.77H443V279.94H444V280.5H445V280.1H446V279.83H447V279.65H448V279.63H449V279.9H450V278.7H451V280.09H452V280.5H453V280.5H454V280.5H455V280.5H456V280.2H457V279.88H458V280.5H459V280.06H460V279.99H461V280.5H462V280.11H463V279.89H464V279.93H465V280.07H466V280.13H467V280.1H468V280.05H469V279.85H470V280.5H471V280.5H472V280.5H473V279.44H474V280.5H475V280.5H476V280.5H477V280.5H478V280.5H479V280.09H480V280.13H481V279.92H482V279.93H483V280.5H484V279.88H485V279.75H486V279.81H487V280.01H488V279.83H489V279.86H490V280.5H491V280.5H492V280.5H493V279.82H494V279.88H495V280.5H496V280.5H497V280.11H498V279.96H499V280.5H500V280.5H501V279.84H502V279.91H503V279.89H504V280.07H505V280.04H506V280.03H507V279.78H508V280.5H509V279.95H510V279.89H511V279.75H512V279.95H513V279.9H514V279.09H515V279.63H516V280.5H517V280.5H518V280.5H519V280.5H520V280.5H521V280.5H522V279.84H523V280.03H524V280.09H525V279.93H526V280.01H527V280.1H528V280.5H529V280.5H530V280.5H531V279.95H532V279.99H533V279.89H534V280.06H535V280.06H536V279.77H537V279.91H538V279.69H539V280.5H540V280.5H541V280.5H542V280.5H543V280.1H544V279.87H545V280.5H546V279.87H547V279.76H548V279.73H549V280.5H550V280.5H551V279.94H552V280.5H553V280.04H554V279.91H555V280.5H556V280.13H557V279.99H558V279.89H559V279.88H560V279.84H561V280.5H562V280.11H563V280.5H564V279.7H565V279.72H566V279.83H567V280.5H568V280.5H569V280.5H570V280.06H571V280.15H572V280.5H573V278.7H574V276.3H575V279.86H576V279.68H577V279.61H578V280.5H579V280.5H580V280.5H581V280.5H582V279.93H583V280.5H584V280.5H585V280.5H586V280.09H587V280.09H588V279.79H589V279.83H590V279.72H591V279.65H592V279.58H593V279.88H594V279.68H595V280.5H596V280.5H597V280.5H597.4V280.5Z" fill="#9a9a9a"/>
<path d="M412,307.5V306.61H413V304.7H414V304.7H415V305.86H416V306.43H417V307.5H418V306.94H419V306.74H420V306.36H421V306.46H422V306.68H423V306.58H424V306.52H425V307.5H426V307.5H427V307.5H428V306.88H429V306.49H430V306.76H431V306.93H432V306.77H433V306.76H434V306.91H435V307.5H436V306.89H437V306.94H438V306.89H439V307.5H440V307.5H441V306.73H442V306.91H443V306.48H444V306.58H445V306.27H446V306.34H447V306.32H448V305.34H449V305.98H450V303.1H451V304.6H452V307.5H453V306.69H454V307.5H455V307.5H456V307.5H457V307.5H458V306.34H459V307.5H460V306.75H461V307.5H462V307.5H463V307.5H464V307.05H465V307.06H466V306.92H467V306.8H468V306.51H469V306.78H470V306.93H471V307.01H472V307.5H473V306.61H474V306.68H475V306.81H476V306.6H477V307.5H478V307.5H479V307.5H480V306.91H481V306.95H482V307.5H483V307.5H484V307.5H485V306.83H486V306.74H487V306.91H488V305.98H489V306.06H490V306.15H491V305.24H492V305.84H493V306.51H494V307.5H495V307.5H496V307.5H497V307.5H498V306.94H499V306.74H500V306.81H501V306.95H502V306.47H503V307.5H504V307.5H505V307.5H506V307.05H507V307.5H508V307.5H509V306.53H510V306.67H511V306.82H512V306.44H513V306.69H514V307.5H515V306.79H516V306.87H517V306.86H518V306.64H519V307.5H520V307.5H521V307.5H522V306.85H523V307.5H524V307.5H525V307.5H526V306.58H527V306.5H528V307.5H529V307.5H530V307.04H531V306.97H532V306.98H533V306.75H534V306.55H535V306.42H536V306.35H537V306.69H538V306.81H539V307.5H540V306.97H541V306.45H542V306.66H543V306.85H544V306.65H545V306.66H546V306.87H547V306.98H548V306.91H549V307.5H550V307.5H551V307.5H552V307.5H553V307.02H554V306.7H555V306.66H556V306.77H557V306.62H558V306.87H559V306.82H560V306.55H561V306.27H562V306.42H563V306.66H564V307.5H565V306.8H566V306.43H567V305.66H568V305.73H569V305.5H570V306.48H571V306.4H572V306.39H573V304.5H574V290H575V302.5H576V306.9H577V307.5H578V307.5H579V306.91H580V306.48H581V306.58H582V305.79H583V307.5H584V307.5H585V307.5H586V307.5H587V306.74H588V306.88H589V306.57H590V306.82H591V307.5H592V307.5H593V307.5H594V306.53H595V306.24H596V306.36H597V306.44H597.4V307.5Z" fill="#3470bb"/>
<path d="M412,335.5V334.43H413V334.56H414V334.68H415V334.08H416V335.04H417V335.07H418V334.68H419V335.5H420V335.5H421V334.77H422V334.56H423V334.53H424V335.5H425V335.5H426V335.5H427V335.5H428V334.88H429V335.5H430V334.74H431V334.92H432V334.49H433V334.8H434V334.47H435V334.77H436V335.5H437V335.5H438V334.82H439V334.44H440V334.79H441V335.5H442V334.51H443V334.59H444V334.74H445V334.57H446V334.8H447V334.89H448V334.96H449V334.95H450V333.1H451V334.55H452V334.68H453V334.6H454V334.71H455V334.67H456V335.5H457V335.5H458V335.5H459V335.5H460V335.5H461V335.5H462V334.89H463V334.88H464V335.5H465V335.5H466V335.5H467V334.65H468V334.38H469V334.39H470V334.77H471V334.41H472V334.51H473V334.78H474V334.38H475V335.5H476V335.5H477V335.07H478V334.75H479V334.84H480V335.5H481V334.64H482V334.8H483V335.5H484V334.5H485V334.53H486V333.76H487V335.5H488V334.51H489V335.5H490V334.93H491V335H492V334.72H493V335.5H494V335.5H495V335.5H496V335.02H497V334.7H498V334.88H499V334.64H500V334.46H501V334.69H502V335.5H503V334.89H504V334.77H505V334.81H506V334.45H507V334.24H508V335.5H509V335.5H510V334.96H511V334.9H512V334.96H513V335.03H514V335.02H515V333.68H516V334.03H517V333.91H518V334.26H519V335.5H520V335.5H521V334.75H522V335.5H523V334.51H524V335.5H525V335.5H526V334.54H527V334.37H528V335.5H529V334.64H530V334.37H531V334.21H532V335.5H533V334.78H534V335.5H535V335.5H536V334.96H537V334.53H538V334.71H539V334.6H540V334.86H541V335.5H542V334.96H543V334.76H544V334.94H545V335.02H546V334.89H547V335.5H548V334.75H549V334.9H550V334.63H551V334.37H552V334.76H553V334.68H554V335.5H555V334.8H556V334.79H557V335.5H558V335.5H559V334.06H560V335.5H561V335.5H562V334.65H563V335.5H564V335.5H565V335.5H566V335.04H567V335.01H568V334.74H569V334.56H570V334.83H571V334.53H572V335.5H573V335.5H574V331.1H575V334.66H576V334.75H577V334.9H578V335H579V334.65H580V335.5H581V335.5H582V335.5H583V334.81H584V334.92H585V334.95H586V334.92H587V334.6H588V334.73H589V335.5H590V335.5H591V335.5H592V333.71H593V334.07H594V335.5H595V335.5H596V335.5H597V334.75H597.4V335.5Z" fill="#48aee0"/>
<path d="M412,362.5V360.3H413V360.69H414V360.66H415V360.3H416V361.49H417V361.7H418V362.5H419V361.72H420V360.61H421V361H422V361.5H423V361.36H424V360.54H425V362.5H426V362.5H427V362.5H428V362.04H429V361.98H430V361.99H431V361.75H432V362.5H433V362.5H434V362.5H435V362.05H436V361.7H437V361.63H438V361.59H439V361.72H440V361.85H441V361.82H442V361.45H443V361.7H444V361.92H445V361.61H446V361.72H447V361.83H448V361.5H449V361.83H450V359H451V361.42H452V361.42H453V361.24H454V361.71H455V361.7H456V361.75H457V362.5H458V362.5H459V361.14H460V361.27H461V362.5H462V361.7H463V361.7H464V361.43H465V361.31H466V361.43H467V361.75H468V361.43H469V361.77H470V361.66H471V361.41H472V362.5H473V362.5H474V361.83H475V361.61H476V362.5H477V362.04H478V362.07H479V361.81H480V361.89H481V361.57H482V361.6H483V361.45H484V361.42H485V362.5H486V362.5H487V361.59H488V361.62H489V362.5H490V362.5H491V362.5H492V362.5H493V362.5H494V361.35H495V361.23H496V361.44H497V361.51H498V361.76H499V361.86H500V361.53H501V361.31H502V361.67H503V361.53H504V361.81H505V361.7H506V361.62H507V361.58H508V361.61H509V361.81H510V361.44H511V361.67H512V361.51H513V361.8H514V361.45H515V362.5H516V361.86H517V361.56H518V361.61H519V361.43H520V361.77H521V361.79H522V361.89H523V361.49H524V361.76H525V361.74H526V361.59H527V361.52H528V361.44H529V362.5H530V362.5H531V362.5H532V362.5H533V362.5H534V362.5H535V361.76H536V361.89H537V361.91H538V361.55H539V361.78H540V361.49H541V362.5H542V362.5H543V361.92H544V361.93H545V361.86H546V362.5H547V361.66H548V361.49H549V362.5H550V362.5H551V362.5H552V361.53H553V362.5H554V362.5H555V362.5H556V361.6H557V361.62H558V362.5H559V362.5H560V361.97H561V361.79H562V361.44H563V361.73H564V362.5H565V361.94H566V361.86H567V362.5H568V362.5H569V361.94H570V362.5H571V362.5H572V361.64H573V361.65H574V350.9H575V359.5H576V361.76H577V361.57H578V361.8H579V361.72H580V361.86H581V361.67H582V361.45H583V362.5H584V362.5H585V362.5H586V362.05H587V361.65H588V362.5H589V362.5H590V361.89H591V362.5H592V361.92H593V361.65H594V361.38H595V361.53H596V361.7H597V361.92H597.4V362.5Z" fill="#b3dfec"/>
<path d="M412,362.5V360.3H413V360.69H414V360.66H415V360.3H416V361.49H417V361.7H418V362.5H419V361.72H420V360.61H421V361H422V361.5H423V361.36H424V360.54H425V362.5H426V362.5H427V362.5H428V362.04H429V361.98H430V361.99H431V361.75H432V362.5H433V362.5H434V362.5H435V362.05H436V361.7H437V361.63H438V361.59H439V361.72H440V361.85H441V361.82H442V361.45H443V361.7H444V361.92H445V361.61H446V361.72H447V361.83H448V361.5H449V361.83H450V359H451V361.42H452V361.42H453V361.24H454V361.71H455V361.7H456V361.75H457V362.5H458V362.5H459V361.14H460V361.27H461V362.5H462V361.7H463V361.7H464V361.43H465V361.31H466V361.43H467V361.75H468V361.43H469V361.77H470V361.66H471V361.41H472V362.5H473V362.5H474V361.83H475V361.61H476V362.5H477V362.04H478V362.07H479V361.81H480V361.89H481V361.57H482V361.6H483V361.45H484V361.42H485V362.5H486V362.5H487V361.59H488V361.62H489V362.5H490V362.5H491V362.5H492V362.5H493V362.5H494V361.35H495V361.23H496V361.44H497V361.51H498V361.76H499V361.86H500V361.53H501V361.31H502V361.67H503V361.53H504V361.81H505V361.7H506V361.62H507V361.58H508V361.61H509V361.81H510V361.44H511V361.67H512V361.51H513V361.8H514V361.45H515V362.5H516V361.86H517V361.56H518V361.61H519V361.43H520V361.77H521V361.79H522V361.89H523V361.49H524V361.76H525V361.74H526V361.59H527V361.52H528V361.44H529V362.5H530V362.5H531V362.5H532V362.5H533V362.5H534V362.5H535V361.76H536V361.89H537V361.91H538V361.55H539V361.78H540V361.49H541V362.5H542V362.5H543V361.92H544V361.93H545V361.86H546V362.5H547V361.66H548V361.49H549V362.5H550V362.5H551V362.5H552V361.53H553V362.5H554V362.5H555V362.5H556V361.6H557V361.62H558V362.5H559V362.5H560V361.97H561V361.79H562V361.44H563V361.73H564V362.5H565V361.94H566V361.86H567V362.5H568V362.5H569V361.94H570V362.5H571V362.5H572V361.64H573V361.65H574V355.5H575V359.5H576V361.76H577V361.57H578V361.8H579V361.72H580V361.86H581V361.67H582V361.45H583V362.5H584V362.5H585V362.5H586V362.05H587V361.65H588V362.5H589V362.5H590V361.89H591V362.5H592V361.92H593V361.65H594V361.38H595V361.53H596V361.7H597V361.92H597.4V362.5Z" fill="#64bcd6"/>
<path d="M412,390.5V389.27H413V377.8H414V383H415V383H416V385.47H417V387.9H418V389.55H419V390.5H420V390.5H421V390.5H422V389.84H423V389.92H424V390.5H425V390.5H426V390.5H427V388H428V388H429V389.32H430V389.4H431V389.49H432V389.27H433V389.68H434V389.56H435V389.78H436V390.5H437V390.5H438V390.5H439V389.91H440V389.8H441V389.58H442V389.7H443V389.48H444V389.12H445V389.42H446V389.45H447V389.76H448V389.88H449V387H450V383.5H451V384H452V389.94H453V389.96H454V389.92H455V389.4H456V390.5H457V389.94H458V389.56H459V389.59H460V389.71H461V389.77H462V389.91H463V389.32H464V389.69H465V389.62H466V389.25H467V389.35H468V390.5H469V389.32H470V389.33H471V389.36H472V389.18H473V390.5H474V390.5H475V389.96H476V389.99H477V388.78H478V389.14H479V389.38H480V389.39H481V389.35H482V389.69H483V389.26H484V389.62H485V390.5H486V390.5H487V390.5H488V390.5H489V390.5H490V389.91H491V389.93H492V389.78H493V390.5H494V390.5H495V389.86H496V389.9H497V389.48H498V389.67H499V389.32H500V389.63H501V389.58H502V390.5H503V390.5H504V389.51H505V389.79H506V389.82H507V390.5H508V390.5H509V389.9H510V389.4H511V390.5H512V390.5H513V390.5H514V390.5H515V390.5H516V390.5H517V390.5H518V390.5H519V389.73H520V389.86H521V389.68H522V389.82H523V390.5H524V389.79H525V389.46H526V389.53H527V390.5H528V390.5H529V389.7H530V389.36H531V389.15H532V388.97H533V389.22H534V389.25H535V390.5H536V389.42H537V389.4H538V389.45H539V389.1H540V390.5H541V390.5H542V389.38H543V389.31H544V389.37H545V389.37H546V389.41H547V390.5H548V390.5H549V389.68H550V389.57H551V389.51H552V389.47H553V389.54H554V389.69H555V389.68H556V389.2H557V389.45H558V389.65H559V389.85H560V389.8H561V390.5H562V390.5H563V390.5H564V389.81H565V384.3H566V390.5H567V389.52H568V389.77H569V390.5H570V389.83H571V389.87H572V390.5H573V390.5H574V366H575V384.5H576V389.79H577V389.54H578V390.5H579V389.82H580V389.29H581V389.34H582V389.63H583V390.5H584V390.5H585V390.5H586V389.45H587V390.5H588V390.5H589V390.5H590V390.5H591V390.5H592V390.5H593V390.5H594V389.73H595V390.5H596V390.5H597V390.5H597.4V390.5Z" fill="#9fd3a1"/>
<path d="M412,390.5V389.27H413V386.5H414V387H415V387H416V388.15H417V389.16H418V389.61H419V390.5H420V390.5H421V390.5H422V389.84H423V389.92H424V390.5H425V390.5H426V390.5H427V388H428V388H429V389.32H430V389.4H431V389.49H432V389.27H433V389.68H434V389.56H435V389.78H436V390.5H437V390.5H438V390.5H439V389.91H440V389.8H441V389.58H442V389.7H443V389.48H444V389.12H445V389.42H446V389.45H447V389.76H448V389.88H449V387.75H450V385H451V384.5H452V389.94H453V389.96H454V389.92H455V389.4H456V390.5H457V389.94H458V389.56H459V389.59H460V389.71H461V389.77H462V389.91H463V389.32H464V389.69H465V389.62H466V389.25H467V389.35H468V390.5H469V389.32H470V389.33H471V389.36H472V389.18H473V390.5H474V390.5H475V389.96H476V389.99H477V388.78H478V389.14H479V389.38H480V389.39H481V389.35H482V389.69H483V389.26H484V389.62H485V390.5H486V390.5H487V390.5H488V390.5H489V390.5H490V389.91H491V389.93H492V389.78H493V390.5H494V390.5H495V389.86H496V389.9H497V389.48H498V389.67H499V389.32H500V389.63H501V389.58H502V390.5H503V390.5H504V389.51H505V389.79H506V389.82H507V390.5H508V390.5H509V389.9H510V389.4H511V390.5H512V390.5H513V390.5H514V390.5H515V390.5H516V390.5H517V390.5H518V390.5H519V389.73H520V389.86H521V389.68H522V389.82H523V390.5H524V389.79H525V389.46H526V389.53H527V390.5H528V390.5H529V389.7H530V389.36H531V389.15H532V388.97H533V389.22H534V389.25H535V390.5H536V389.42H537V389.4H538V389.45H539V389.1H540V390.5H541V390.5H542V389.38H543V389.31H544V389.37H545V389.37H546V389.41H547V390.5H548V390.5H549V389.68H550V389.57H551V389.51H552V389.47H553V389.54H554V389.69H555V389.68H556V389.2H557V389.45H558V389.65H559V389.85H560V389.8H561V390.5H562V390.5H563V390.5H564V389.81H565V384.5H566V390.5H567V389.52H568V389.77H569V390.5H570V389.83H571V389.87H572V390.5H573V390.5H574V368.5H575V384.5H576V389.79H577V389.54H578V390.5H579V389.82H580V389.29H581V389.34H582V389.63H583V390.5H584V390.5H585V390.5H586V389.45H587V390.5H588V390.5H589V390.5H590V390.5H591V390.5H592V390.5H593V390.5H594V389.73H595V390.5H596V390.5H597V390.5H597.4V390.5Z" fill="#2b982f"/>
<path d="M412,417.5V416.96H413V415H414V415H415V416.84H416V416.86H417V415.75H418V416.45H419V416.42H420V415.77H421V416.43H422V417.5H423V416.94H424V416.94H425V416.18H426V416.65H427V416.66H428V417.5H429V416.22H430V416.59H431V416.87H432V417.5H433V416.8H434V417.5H435V416.74H436V416.87H437V416.76H438V416.81H439V416.67H440V417.5H441V416.62H442V416.72H443V416.72H444V416.86H445V417.5H446V417.1H447V416.71H448V416.57H449V416.77H450V416.65H451V416.41H452V416.81H453V417.5H454V417.5H455V417.5H456V417.5H457V417.11H458V417.11H459V417.06H460V417.5H461V417.5H462V417.5H463V417.5H464V416.76H465V416.96H466V416.84H467V415.72H468V416.48H469V416.53H470V417.5H471V417.5H472V416.82H473V416.8H474V416.62H475V416.51H476V416.46H477V416.47H478V416.79H479V416.75H480V416.7H481V416.88H482V416.67H483V416.51H484V416.6H485V416.43H486V415.59H487V416.32H488V416.42H489V416.74H490V416.68H491V417.5H492V417.5H493V417.08H494V417.05H495V416.59H496V416.64H497V417.5H498V417.5H499V416.8H500V416.65H501V417.5H502V416.72H503V416.93H504V416.81H505V417.5H506V417.5H507V416.95H508V416.97H509V416.79H510V416.89H511V417.5H512V417.5H513V417.5H514V417.11H515V416.71H516V416.5H517V416.43H518V416.82H519V416.46H520V416.71H521V416.82H522V416.53H523V416.64H524V416.91H525V416.86H526V417.5H527V417.5H528V417.5H529V417.5H530V417.5H531V417.1H532V416.93H533V416.87H534V416.98H535V417.06H536V417.08H537V416.76H538V416.88H539V416.67H540V416.66H541V416.46H542V416.71H543V416.93H544V416.96H545V416.99H546V417.06H547V416.65H548V416.53H549V416.79H550V416.82H551V416.16H552V416.69H553V416.82H554V416.23H555V417.5H556V417.5H557V417.5H558V416.99H559V416.85H560V416.98H561V416.97H562V416.63H563V416.81H564V416.99H565V416.69H566V417.5H567V416.7H568V416.93H569V416.98H570V417H571V417.5H572V417.5H573V416.71H574V413.7H575V417.5H576V417.08H577V417.01H578V416.6H579V416.73H580V416.9H581V417.02H582V417.5H583V417.5H584V417.5H585V417.5H586V417.5H587V417.5H588V417.5H589V417H590V416.98H591V416.82H592V416.33H593V417.5H594V417.5H595V417.01H596V417.5H597V417.5H597.4V417.5Z" fill="#36a690"/>
<path d="M412,445.5V444.68H413V445.5H414V444.87H415V444.86H416V444.6H417V444.59H418V444.32H419V444.64H420V444.71H421V444.67H422V444.88H423V444.55H424V445.5H425V445.5H426V445.5H427V445.05H428V444.56H429V444.87H430V444.76H431V444.79H432V444.84H433V445.5H434V445.5H435V445.09H436V444.76H437V444.59H438V444.78H439V444.95H440V444.76H441V444.51H442V444.34H443V444.63H444V443.77H445V444.16H446V445.5H447V445.5H448V444.82H449V445.5H450V445.5H451V445.5H452V444.96H453V444.52H454V444.75H455V444.55H456V443.73H457V444.39H458V444.63H459V444.5H460V444.31H461V444.73H462V444.93H463V445.01H464V445.5H465V445.5H466V445.5H467V445.5H468V444.6H469V444.88H470V444.42H471V444.58H472V444.36H473V444.57H474V445.5H475V444.88H476V444.51H477V445.5H478V445.5H479V445.5H480V445.5H481V445.5H482V445.5H483V444.78H484V445.5H485V445.5H486V445.5H487V444.87H488V444.98H489V444.57H490V444.37H491V443.44H492V444.01H493V444.57H494V444.66H495V444.85H496V444.9H497V444.94H498V445.02H499V445.5H500V445.02H501V445.5H502V445H503V444.9H504V444.8H505V444.62H506V445.5H507V444.87H508V444.99H509V445.06H510V444.75H511V445.5H512V444.79H513V444.59H514V445.5H515V445.5H516V444.81H517V444.73H518V445.5H519V445.5H520V445.01H521V444.99H522V444.37H523V444.62H524V444.64H525V444.47H526V445.5H527V445.5H528V445.5H529V445.05H530V444.89H531V444.9H532V445H533V445.5H534V444.63H535V444.9H536V444.69H537V445.5H538V445.5H539V445.5H540V444.71H541V444.71H542V444.79H543V444.97H544V444.65H545V445.5H546V444.44H547V444.3H548V444.75H549V445.5H550V445.5H551V445.5H552V445.5H553V445.04H554V444.92H555V445.5H556V445.5H557V445.5H558V445.5H559V445.5H560V444.68H561V444.74H562V445.5H563V445.5H564V444.8H565V445.5H566V445.5H567V444.72H568V443.86H569V443.77H570V443.99H571V444.02H572V444.66H573V444H574V444.44H575V443.97H576V445.5H577V445.5H578V444.68H579V444.72H580V444.51H581V444.52H582V444.23H583V444.36H584V444.64H585V445.5H586V445.5H587V445.5H588V444.77H589V444.47H590V444.67H591V444.86H592V445.5H593V445.5H594V445.5H595V444.45H596V444.32H597V444.39H597.4V445.5Z" fill="#86c43a"/>
<text x="440" y="457" font-size="7.6" fill="#231f20" stroke="#231f20">MAP3K14</text>
<line x1="478" y1="454.4" x2="574.3" y2="454.4" stroke="#16167f" stroke-width="0.8"/>
<path d="M502.1,452.8L500.4,454.4L502.1,456M507.1,452.8L505.4,454.4L507.1,456M512.1,452.8L510.4,454.4L512.1,456M517.1,452.8L515.4,454.4L517.1,456M522.1,452.8L520.4,454.4L522.1,456M527.1,452.8L525.4,454.4L527.1,456M532.1,452.8L530.4,454.4L532.1,456M537.1,452.8L535.4,454.4L537.1,456M542.1,452.8L540.4,454.4L542.1,456M547.1,452.8L545.4,454.4L547.1,456M552.1,452.8L550.4,454.4L552.1,456M557.1,452.8L555.4,454.4L557.1,456M562.1,452.8L560.4,454.4L562.1,456M567.1,452.8L565.4,454.4L567.1,456M572.1,452.8L570.4,454.4L572.1,456" fill="none" stroke="#16167f" stroke-width="0.7"/>
<rect x="478" y="451.6" width="2.8" height="5.4" fill="#16167f"/>
<rect x="482.3" y="449.6" width="1" height="9.2" fill="#16167f"/>
<rect x="484.8" y="449.6" width="1" height="9.2" fill="#16167f"/>
<rect x="491" y="449.6" width="1" height="9.2" fill="#16167f"/>
<rect x="493.5" y="449.6" width="1" height="9.2" fill="#16167f"/>
<rect x="496.1" y="449.6" width="1" height="9.2" fill="#16167f"/>
<rect x="497.6" y="449.6" width="1" height="9.2" fill="#16167f"/>
<rect x="516.5" y="449.6" width="1" height="9.2" fill="#16167f"/>
<rect x="519.5" y="449.6" width="1" height="9.2" fill="#16167f"/>
<rect x="523.7" y="449.6" width="1" height="9.2" fill="#16167f"/>
<rect x="525.2" y="449.6" width="1" height="9.2" fill="#16167f"/>
<rect x="573.8" y="452" width="0.7" height="5" fill="#16167f"/>
<text x="0.9" y="481.8" font-size="12" fill="#231f20" stroke="#231f20" font-weight="bold">E</text>
<line x1="31.4" y1="515" x2="31.4" y2="535.3" stroke="#555" stroke-width="0.9"/>
<line x1="31.4" y1="542.7" x2="31.4" y2="610.2" stroke="#555" stroke-width="0.9"/>
<line x1="31.4" y1="628.6" x2="31.4" y2="696.1" stroke="#555" stroke-width="0.9"/>
<text transform="translate(28.6,525.6) rotate(-90)" font-size="9.1" fill="#231f20" stroke="#231f20" text-anchor="middle">IgG</text>
<text transform="translate(28.8,576.1) rotate(-90)" font-size="9.1" fill="#231f20" stroke="#231f20" text-anchor="middle">SOX11</text>
<text transform="translate(28.8,662.1) rotate(-90)" font-size="9.1" fill="#231f20" stroke="#231f20" text-anchor="middle">SMARCA4</text>
<text x="37.2" y="528.8" font-size="9.1" fill="#a9a9a9" stroke="#a9a9a9">Z138</text>
<text x="37.2" y="554.3" font-size="9.1" fill="#3e74be" stroke="#3e74be">Z138</text>
<text x="37.2" y="582" font-size="9.1" fill="#52b3e4" stroke="#52b3e4">Z138SOX11KO</text>
<text x="37.2" y="608.6" font-size="9.1" fill="#74c3da" stroke="#74c3da">Z138 AU-15330</text>
<text x="37.2" y="637.2" font-size="9.1" fill="#3c803c" stroke="#3c803c">Z138</text>
<text x="37.2" y="665.2" font-size="9.1" fill="#45af9a" stroke="#45af9a">Z138SOX11KO</text>
<text x="37.2" y="694.1" font-size="9.1" fill="#8dc642" stroke="#8dc642">Z138 AU-15330</text>
<line x1="117.5" y1="534.5" x2="381.2" y2="534.5" stroke="#bcbcbc" stroke-width="1"/>
<line x1="117.5" y1="561.5" x2="381.2" y2="561.5" stroke="#a9c5e8" stroke-width="1"/>
<line x1="117.5" y1="588.5" x2="381.2" y2="588.5" stroke="#b2ddf2" stroke-width="1"/>
<line x1="117.5" y1="616.5" x2="381.2" y2="616.5" stroke="#bce2ee" stroke-width="1"/>
<line x1="117.5" y1="643.5" x2="381.2" y2="643.5" stroke="#92cf95" stroke-width="1"/>
<line x1="117.5" y1="671.5" x2="381.2" y2="671.5" stroke="#a9dad0" stroke-width="1"/>
<line x1="117.5" y1="698.5" x2="381.2" y2="698.5" stroke="#b8dc85" stroke-width="1"/>
<rect x="143.5" y="513.5" width="28" height="185" fill="none" stroke="#eec6e0" stroke-width="1"/>
<text x="121.2" y="495.6" font-size="7.35" fill="#231f20" stroke="#231f20" text-anchor="end">Scale</text>
<text x="122.7" y="505.5" font-size="7.4" fill="#231f20" stroke="#231f20" text-anchor="end">chr12:</text>
<line x1="121.5" y1="488.3" x2="121.5" y2="699.48" stroke="#a0a0a0" stroke-width="1"/>
<text x="131.2" y="505.6" font-size="7.65" fill="#231f20" stroke="#231f20">68,810,000</text>
<line x1="165.4" y1="497.9" x2="165.4" y2="507" stroke="#555" stroke-width="0.8"/>
<text x="192" y="505.6" font-size="7.65" fill="#231f20" stroke="#231f20">68,820,000</text>
<line x1="225.9" y1="497.9" x2="225.9" y2="507" stroke="#555" stroke-width="0.8"/>
<text x="252.2" y="505.6" font-size="7.65" fill="#231f20" stroke="#231f20">68,830,000</text>
<line x1="286.4" y1="497.9" x2="286.4" y2="507" stroke="#555" stroke-width="0.8"/>
<text x="312.2" y="505.6" font-size="7.65" fill="#231f20" stroke="#231f20">68,840,000</text>
<line x1="346.4" y1="497.9" x2="346.4" y2="507" stroke="#555" stroke-width="0.8"/>
<text x="117.4" y="514.7" font-size="7" fill="#b0b0b0" stroke="#b0b0b0" text-anchor="end">300</text>
<text x="115.4" y="532.8" font-size="7" fill="#b0b0b0" stroke="#b0b0b0" text-anchor="end">0</text>
<line x1="120.2" y1="512.5" x2="121" y2="512.5" stroke="#b0b0b0" stroke-width="1"/>
<text x="117.4" y="542.13" font-size="7" fill="#3e74be" stroke="#3e74be" text-anchor="end">250</text>
<text x="115.4" y="560.23" font-size="7" fill="#3e74be" stroke="#3e74be" text-anchor="end">0</text>
<line x1="120.2" y1="539.5" x2="121" y2="539.5" stroke="#3e74be" stroke-width="1"/>
<text x="117.4" y="569.56" font-size="7" fill="#52b3e4" stroke="#52b3e4" text-anchor="end">250</text>
<text x="115.4" y="587.66" font-size="7" fill="#52b3e4" stroke="#52b3e4" text-anchor="end">0</text>
<line x1="120.2" y1="566.5" x2="121" y2="566.5" stroke="#52b3e4" stroke-width="1"/>
<text x="117.4" y="596.99" font-size="7" fill="#74c3da" stroke="#74c3da" text-anchor="end">250</text>
<text x="115.4" y="615.09" font-size="7" fill="#74c3da" stroke="#74c3da" text-anchor="end">0</text>
<line x1="120.2" y1="594.5" x2="121" y2="594.5" stroke="#74c3da" stroke-width="1"/>
<text x="117.4" y="624.42" font-size="7" fill="#3ca53c" stroke="#3ca53c" text-anchor="end">300</text>
<text x="115.4" y="642.52" font-size="7" fill="#3ca53c" stroke="#3ca53c" text-anchor="end">0</text>
<line x1="120.2" y1="621.5" x2="121" y2="621.5" stroke="#3ca53c" stroke-width="1"/>
<text x="117.4" y="651.85" font-size="7" fill="#45af9a" stroke="#45af9a" text-anchor="end">300</text>
<text x="115.4" y="669.95" font-size="7" fill="#45af9a" stroke="#45af9a" text-anchor="end">0</text>
<line x1="120.2" y1="649.5" x2="121" y2="649.5" stroke="#45af9a" stroke-width="1"/>
<text x="117.4" y="679.28" font-size="7" fill="#8dc642" stroke="#8dc642" text-anchor="end">300</text>
<text x="115.4" y="697.38" font-size="7" fill="#8dc642" stroke="#8dc642" text-anchor="end">0</text>
<line x1="120.2" y1="676.5" x2="121" y2="676.5" stroke="#8dc642" stroke-width="1"/>
<path d="M122,534.5V534.5H123V533.91H124V533.88H125V534.5H126V534.5H127V534.5H128V534.5H129V534.5H130V534.5H131V533.22H132V533.73H133V533.78H134V533.88H135V533.76H136V533.79H137V534.5H138V533.82H139V534.5H140V534.5H141V534.5H142V534.02H143V533.97H144V533.75H145V533.91H146V533.82H147V533.72H148V533.59H149V533.57H150V534.5H151V533.09H152V531.71H153V532.93H154V532.73H155V534.16H156V533.8H157V533.97H158V533.83H159V533.85H160V533.87H161V533.88H162V533.88H163V534.5H164V534.5H165V533.73H166V534.5H167V534.5H168V534.02H169V534.5H170V534.5H171V534.5H172V534.16H173V534.13H174V534.12H175V533.97H176V533.91H177V533.78H178V534.5H179V534.06H180V534.02H181V534.5H182V534.5H183V534.5H184V534.5H185V534.5H186V534.1H187V533.77H188V533.6H189V533.92H190V533.99H191V533.83H192V534.5H193V534.5H194V534.12H195V533.89H196V534.04H197V533.96H198V534.01H199V534.5H200V534.5H201V534.5H202V534.5H203V533.73H204V533.9H205V533.97H206V534.03H207V533.81H208V533.25H209V533.6H210V533.51H211V533.76H212V533.16H213V533.3H214V533.66H215V533.93H216V533.78H217V533.7H218V533.56H219V533.31H220V533.64H221V533.22H222V533.32H223V533.35H224V533.4H225V533.61H226V533.92H227V533.69H228V533.93H229V533.65H230V533.89H231V534.5H232V534.5H233V534.5H234V534.5H235V533.89H236V533.9H237V533.66H238V533.73H239V533.97H240V533.76H241V534.5H242V534.08H243V534.09H244V533.76H245V533.96H246V534.5H247V534.5H248V534.08H249V533.83H250V533.8H251V533.82H252V533.95H253V533.86H254V533.61H255V534.5H256V534.5H257V534.5H258V534.5H259V534.5H260V534.5H261V534.01H262V533.74H263V533.94H264V534.5H265V534.5H266V534.5H267V534.05H268V534.03H269V534.07H270V534.1H271V533.93H272V533.21H273V533.51H274V534.5H275V534.5H276V534.06H277V534.5H278V534.5H279V533.99H280V534.08H281V534.5H282V534.5H283V534.5H284V533.98H285V533.78H286V534.5H287V533.8H288V533.9H289V533.68H290V533.96H291V533.88H292V533.8H293V533.76H294V533.96H295V534.03H296V533.7H297V533.69H298V533.76H299V534.5H300V534.5H301V533.98H302V533.96H303V533.67H304V533.79H305V534.01H306V534.5H307V534.5H308V534.09H309V533.99H310V533.98H311V534.07H312V533.79H313V533.74H314V534.5H315V534.5H316V534.01H317V533.69H318V533.65H319V534.5H320V534.5H321V534.13H322V534.14H323V534.15H324V534.5H325V534.5H326V534.5H327V534.1H328V534.03H329V534.5H330V534.5H331V534.5H332V534.5H333V534.5H334V534.5H335V534.5H336V534.5H337V534.5H338V534.5H339V533.85H340V533.7H341V533.57H342V533.56H343V533.73H344V533.6H345V533.73H346V533.88H347V533.82H348V533.99H349V534.08H350V534.02H351V533.93H352V533.67H353V534.5H354V534.5H355V534.5H356V534.5H357V534.5H358V534.5H359V534.1H360V534.1H361V534.1H362V534.5H363V534.5H364V534.04H365V533.84H366V534.02H367V534.02H368V534.08H369V533.81H370V533.06H371V533.58H372V533.61H373V533.79H374V533.67H375V533.81H376V534.5H377V534.5H378V534.5H379V533.77H380V533.72H381V533.78H381.2V534.5Z" fill="#9a9a9a"/>
<path d="M122,561.5V561.5H123V561.5H124V561.5H125V561.5H126V560.75H127V561.5H128V561.5H129V561.5H130V560.98H131V560.78H132V560.44H133V560.3H134V560.1H135V560.6H136V560.63H137V560.55H138V560.39H139V560.24H140V560.34H141V560.19H142V560.13H143V559.32H144V561.5H145V560.66H146V560.85H147V560.52H148V561.5H149V561.5H150V559.51H151V554.12H152V550.5H153V543.7H154V555.96H155V557.57H156V558.7H157V558.75H158V557.86H159V556.2H160V559.03H161V561.5H162V561.5H163V560.41H164V560.75H165V561.5H166V561.5H167V561.5H168V561.5H169V560.61H170V560.81H171V560.28H172V560.47H173V561.5H174V561.5H175V561.5H176V561.5H177V560.96H178V560.85H179V560.89H180V560.94H181V561.5H182V560.86H183V560.89H184V560.34H185V560.27H186V561.5H187V561.5H188V561.5H189V560.91H190V561.5H191V561.5H192V561.5H193V560.96H194V561.5H195V560.63H196V560.84H197V560.39H198V560.66H199V560.86H200V560.91H201V560.35H202V560.32H203V561.5H204V560.98H205V560.67H206V561.5H207V560.73H208V560.89H209V560.78H210V560.5H211V560.76H212V560.43H213V560.43H214V560.76H215V560.89H216V560.85H217V560.56H218V560.8H219V560.73H220V561.5H221V561.5H222V561.5H223V560.43H224V560.71H225V560.46H226V560.36H227V560.44H228V561.5H229V561.5H230V560.79H231V560.88H232V560.86H233V560.42H234V561.5H235V561.5H236V561.5H237V560.97H238V560.92H239V560.75H240V560.43H241V560.75H242V560.32H243V561.5H244V561.5H245V561.5H246V560.51H247V560.72H248V560.88H249V559.51H250V561.5H251V561.5H252V561.5H253V560.38H254V560.7H255V560.77H256V561.5H257V560.4H258V560.72H259V560.54H260V560.48H261V560.72H262V561.5H263V560.82H264V560.72H265V560.23H266V560.11H267V560.54H268V560.42H269V560.32H270V559.63H271V561.5H272V561.5H273V561.5H274V561.5H275V561.5H276V560.68H277V560.85H278V561.5H279V561.5H280V561.5H281V561.5H282V560.54H283V560.24H284V560.53H285V560.28H286V560.07H287V559.84H288V557.5H289V559.04H290V560.66H291V561.5H292V561.5H293V561.5H294V558.5H295V560.49H296V560.43H297V560.73H298V560.37H299V560.72H300V561.5H301V561.5H302V561.5H303V560.56H304V560.26H305V560.64H306V561.5H307V561.5H308V561.5H309V560.45H310V560.7H311V561.5H312V560.38H313V560.56H314V560.71H315V559.68H316V560.06H317V560.08H318V560.58H319V561.5H320V561.5H321V558.5H322V558.5H323V560.76H324V560.51H325V560.78H326V561.5H327V561.5H328V561.5H329V560.53H330V560.76H331V560.82H332V560.91H333V560.62H334V560.45H335V561.5H336V560.57H337V560.81H338V560.15H339V560.49H340V560.4H341V561.5H342V560.34H343V560.06H344V560.21H345V560.48H346V561.5H347V561.5H348V561.5H349V560.96H350V560.57H351V561.5H352V561.5H353V560.99H354V561.5H355V560.98H356V561.5H357V560.28H358V560.19H359V560.39H360V560.25H361V560.18H362V561.5H363V561.5H364V561.5H365V561.5H366V561.5H367V561.5H368V560.71H369V560.86H370V561.5H371V560.84H372V560.29H373V560.42H374V560.35H375V560.44H376V561.5H377V560.53H378V560.55H379V560.68H380V560.36H381V559.75H381.2V561.5Z" fill="#9dbbe0"/>
<path d="M122,561.5V561.5H123V561.5H124V561.5H125V561.5H126V560.75H127V561.5H128V561.5H129V561.5H130V560.98H131V560.78H132V560.44H133V560.3H134V560.1H135V560.6H136V560.63H137V560.55H138V560.39H139V560.24H140V560.34H141V560.19H142V560.13H143V559.32H144V561.5H145V560.66H146V560.85H147V560.52H148V561.5H149V561.5H150V559.69H151V554.79H152V551.5H153V547.5H154V556.47H155V557.57H156V558.7H157V558.75H158V558.06H159V556.5H160V559.17H161V561.5H162V561.5H163V560.41H164V560.75H165V561.5H166V561.5H167V561.5H168V561.5H169V560.61H170V560.81H171V560.28H172V560.47H173V561.5H174V561.5H175V561.5H176V561.5H177V560.96H178V560.85H179V560.89H180V560.94H181V561.5H182V560.86H183V560.89H184V560.34H185V560.27H186V561.5H187V561.5H188V561.5H189V560.91H190V561.5H191V561.5H192V561.5H193V560.96H194V561.5H195V560.63H196V560.84H197V560.39H198V560.66H199V560.86H200V560.91H201V560.35H202V560.32H203V561.5H204V560.98H205V560.67H206V561.5H207V560.73H208V560.89H209V560.78H210V560.5H211V560.76H212V560.43H213V560.43H214V560.76H215V560.89H216V560.85H217V560.56H218V560.8H219V560.73H220V561.5H221V561.5H222V561.5H223V560.43H224V560.71H225V560.46H226V560.36H227V560.44H228V561.5H229V561.5H230V560.79H231V560.88H232V560.86H233V560.42H234V561.5H235V561.5H236V561.5H237V560.97H238V560.92H239V560.75H240V560.43H241V560.75H242V560.32H243V561.5H244V561.5H245V561.5H246V560.51H247V560.72H248V560.88H249V559.51H250V561.5H251V561.5H252V561.5H253V560.38H254V560.7H255V560.77H256V561.5H257V560.4H258V560.72H259V560.54H260V560.48H261V560.72H262V561.5H263V560.82H264V560.72H265V560.23H266V560.11H267V560.54H268V560.42H269V560.32H270V559.63H271V561.5H272V561.5H273V561.5H274V561.5H275V561.5H276V560.68H277V560.85H278V561.5H279V561.5H280V561.5H281V561.5H282V560.54H283V560.24H284V560.53H285V560.28H286V560.07H287V559.84H288V557.5H289V559.04H290V560.66H291V561.5H292V561.5H293V561.5H294V558.5H295V560.49H296V560.43H297V560.73H298V560.37H299V560.72H300V561.5H301V561.5H302V561.5H303V560.56H304V560.26H305V560.64H306V561.5H307V561.5H308V561.5H309V560.45H310V560.7H311V561.5H312V560.38H313V560.56H314V560.71H315V559.68H316V560.06H317V560.08H318V560.58H319V561.5H320V561.5H321V558.5H322V558.5H323V560.76H324V560.51H325V560.78H326V561.5H327V561.5H328V561.5H329V560.53H330V560.76H331V560.82H332V560.91H333V560.62H334V560.45H335V561.5H336V560.57H337V560.81H338V560.15H339V560.49H340V560.4H341V561.5H342V560.34H343V560.06H344V560.21H345V560.48H346V561.5H347V561.5H348V561.5H349V560.96H350V560.57H351V561.5H352V561.5H353V560.99H354V561.5H355V560.98H356V561.5H357V560.28H358V560.19H359V560.39H360V560.25H361V560.18H362V561.5H363V561.5H364V561.5H365V561.5H366V561.5H367V561.5H368V560.71H369V560.86H370V561.5H371V560.84H372V560.29H373V560.42H374V560.35H375V560.44H376V561.5H377V560.53H378V560.55H379V560.68H380V560.36H381V559.75H381.2V561.5Z" fill="#3470bb"/>
<path d="M122,588.5V587.61H123V587.53H124V587.77H125V587.7H126V587.71H127V587.79H128V587.93H129V587.82H130V587.69H131V588.5H132V587.52H133V587.81H134V587.53H135V587.68H136V587.73H137V587.77H138V586.65H139V588.5H140V588.5H141V588.5H142V588.5H143V587.98H144V587.82H145V587.7H146V587.89H147V587.56H148V586.77H149V587.15H150V586.88H151V586.68H152V584.3H153V584.3H154V586.06H155V587.14H156V587.86H157V587.84H158V587.47H159V588.5H160V588.5H161V588.5H162V587.65H163V588.5H164V588.5H165V588.02H166V587.98H167V588.5H168V588.5H169V588.5H170V587.76H171V587.93H172V587.47H173V588.5H174V587.75H175V587.57H176V588.5H177V588.5H178V588.5H179V587.53H180V587.3H181V587.62H182V587.48H183V587.4H184V587.52H185V587.77H186V588.5H187V588.5H188V587.84H189V588.5H190V588.5H191V587.89H192V586.74H193V587.31H194V587.31H195V588.5H196V588.01H197V587.47H198V587.79H199V587.7H200V586.58H201V587.34H202V587.55H203V587.44H204V587.71H205V587.46H206V587.77H207V588.5H208V588.02H209V587.51H210V588.5H211V588.5H212V587.86H213V587.74H214V587.9H215V587.99H216V587.84H217V587.91H218V587.7H219V587.27H220V588.5H221V588.5H222V587.57H223V587.4H224V587.3H225V587.22H226V587.36H227V587.49H228V587.47H229V587.67H230V587.78H231V586.57H232V587.38H233V587.23H234V587.55H235V588.5H236V587.79H237V587.92H238V587.88H239V587.82H240V587.57H241V587.7H242V586.92H243V588.5H244V587.65H245V588.5H246V587.7H247V588.5H248V588.5H249V588.5H250V587.75H251V587.57H252V588.5H253V588.5H254V588.5H255V587.98H256V587.45H257V587.65H258V588.5H259V588.5H260V588.5H261V587.72H262V588.5H263V587.78H264V587.6H265V587.46H266V587.29H267V587.27H268V587.2H269V587.31H270V587.4H271V587.7H272V587.84H273V588.5H274V588.5H275V588.5H276V587.6H277V588.5H278V588.5H279V588.5H280V588.5H281V587.35H282V587.65H283V587.87H284V588.5H285V588.5H286V588.5H287V588.5H288V587.87H289V587.52H290V587.8H291V587.86H292V587.9H293V587.62H294V587.06H295V587.56H296V587.25H297V586.96H298V587.12H299V587.04H300V587.15H301V587.15H302V587.34H303V587.59H304V588.5H305V588.5H306V588.5H307V587.75H308V587.85H309V587.56H310V587.6H311V587.44H312V587.33H313V587.73H314V587.62H315V587.56H316V587.68H317V587.35H318V588.5H319V588.5H320V588.5H321V587.99H322V588.5H323V588.5H324V588.5H325V588.5H326V588.5H327V587.91H328V588.5H329V588.5H330V588.5H331V587.66H332V586.87H333V587.52H334V587.26H335V587.42H336V588.5H337V588.5H338V588.5H339V588.5H340V588.5H341V588.5H342V588.02H343V588.04H344V587.04H345V588.5H346V588.5H347V588.5H348V588.5H349V588.5H350V588.5H351V587.52H352V587.45H353V587.58H354V587.67H355V587.66H356V587.87H357V587.62H358V587.29H359V587.45H360V587.78H361V587.68H362V587.8H363V587.41H364V587.2H365V587.36H366V587.61H367V588.5H368V588.5H369V588.5H370V588.5H371V588.5H372V586.9H373V586.56H374V586.87H375V587.24H376V587.65H377V587.66H378V587.84H379V587.87H380V588.5H381V588.5H381.2V588.5Z" fill="#48aee0"/>
<path d="M122,616.5V615.67H123V615.4H124V615.6H125V616.5H126V616.5H127V616.5H128V616.03H129V616.5H130V615.76H131V615.68H132V615.37H133V615.66H134V616.5H135V616.5H136V616.5H137V616.5H138V615.9H139V616.5H140V615.66H141V615.87H142V615.56H143V615.72H144V616.5H145V616.5H146V616.5H147V615.85H148V615.79H149V616.5H150V616.5H151V616.5H152V608.2H153V608.2H154V613.96H155V614.4H156V614.6H157V614.59H158V614.14H159V614.32H160V615.32H161V614.57H162V615.61H163V615.83H164V615.54H165V615.48H166V615.33H167V615.55H168V615.62H169V616.5H170V616.5H171V615.82H172V616.5H173V616.5H174V616.5H175V615.99H176V615.93H177V615.71H178V616.5H179V616.5H180V616.5H181V615.94H182V616.5H183V615.84H184V615.73H185V615.39H186V615.66H187V614.92H188V615.51H189V616.5H190V615.78H191V615.93H192V615.43H193V616.5H194V616.5H195V615.74H196V615.82H197V616.5H198V616.5H199V616.5H200V615.71H201V616.5H202V615.91H203V615.99H204V616.03H205V615.92H206V615.44H207V615.53H208V615.55H209V615.54H210V615.82H211V616.5H212V616.5H213V615.62H214V615.61H215V614.91H216V615.19H217V615.21H218V615.66H219V615.8H220V616.5H221V615.62H222V615.53H223V615.82H224V615.96H225V616.5H226V616.5H227V616.5H228V615.6H229V616.5H230V615.81H231V615.68H232V615.79H233V615.6H234V615.4H235V615.53H236V616.5H237V616.5H238V616.5H239V616.5H240V616.5H241V616.06H242V615.48H243V615.38H244V616.5H245V615.62H246V615.45H247V616.5H248V616.5H249V616.5H250V615.72H251V615.61H252V616.5H253V616.5H254V615.88H255V615.57H256V615.53H257V615.58H258V615.46H259V615.74H260V615.71H261V615.61H262V615.7H263V615.9H264V615.76H265V615.39H266V615.67H267V615.76H268V616.5H269V616.5H270V615.61H271V615.75H272V616.5H273V616.5H274V615.6H275V616.5H276V615.71H277V616.5H278V616.02H279V615.26H280V615.41H281V615.65H282V615.79H283V615.65H284V615.68H285V615.37H286V615.19H287V614H288V615.36H289V616.5H290V616.5H291V616.5H292V616.06H293V616H294V613H295V616.5H296V616.5H297V615.77H298V615.93H299V616.5H300V615.88H301V615.77H302V615.38H303V615.71H304V615.9H305V615.65H306V615.43H307V615.69H308V615.78H309V615.81H310V615.78H311V616.5H312V616.06H313V616.07H314V615.51H315V615.29H316V615.65H317V615.53H318V616.5H319V615.88H320V615.56H321V615.38H322V615.65H323V615.83H324V614H325V614H326V616.5H327V616.5H328V616.5H329V616.05H330V615.52H331V615.38H332V616.5H333V616.5H334V615.74H335V615.86H336V614.66H337V615.39H338V615.61H339V615.48H340V615.49H341V615.79H342V615.57H343V615.33H344V615.32H345V615.58H346V616.5H347V616.5H348V615.89H349V615.98H350V615.57H351V615.8H352V616.5H353V616.5H354V615.55H355V615.62H356V615.4H357V615.51H358V615.29H359V615.44H360V616.5H361V616.5H362V616.5H363V615.85H364V615.72H365V615.89H366V615.94H367V615.95H368V615.24H369V615.22H370V616.5H371V616.5H372V615.12H373V616.5H374V616.5H375V616.5H376V616.5H377V615.55H378V615.48H379V615.8H380V615.4H381V615.32H381.2V616.5Z" fill="#b3dfec"/>
<path d="M122,616.5V615.67H123V615.4H124V615.6H125V616.5H126V616.5H127V616.5H128V616.03H129V616.5H130V615.76H131V615.68H132V615.37H133V615.66H134V616.5H135V616.5H136V616.5H137V616.5H138V615.9H139V616.5H140V615.66H141V615.87H142V615.56H143V615.72H144V616.5H145V616.5H146V616.5H147V615.85H148V615.79H149V616.5H150V616.5H151V616.5H152V610H153V610H154V613.96H155V614.4H156V614.6H157V614.59H158V614.14H159V614.32H160V615.32H161V614.57H162V615.61H163V615.83H164V615.54H165V615.48H166V615.33H167V615.55H168V615.62H169V616.5H170V616.5H171V615.82H172V616.5H173V616.5H174V616.5H175V615.99H176V615.93H177V615.71H178V616.5H179V616.5H180V616.5H181V615.94H182V616.5H183V615.84H184V615.73H185V615.39H186V615.66H187V614.92H188V615.51H189V616.5H190V615.78H191V615.93H192V615.43H193V616.5H194V616.5H195V615.74H196V615.82H197V616.5H198V616.5H199V616.5H200V615.71H201V616.5H202V615.91H203V615.99H204V616.03H205V615.92H206V615.44H207V615.53H208V615.55H209V615.54H210V615.82H211V616.5H212V616.5H213V615.62H214V615.61H215V614.91H216V615.19H217V615.21H218V615.66H219V615.8H220V616.5H221V615.62H222V615.53H223V615.82H224V615.96H225V616.5H226V616.5H227V616.5H228V615.6H229V616.5H230V615.81H231V615.68H232V615.79H233V615.6H234V615.4H235V615.53H236V616.5H237V616.5H238V616.5H239V616.5H240V616.5H241V616.06H242V615.48H243V615.38H244V616.5H245V615.62H246V615.45H247V616.5H248V616.5H249V616.5H250V615.72H251V615.61H252V616.5H253V616.5H254V615.88H255V615.57H256V615.53H257V615.58H258V615.46H259V615.74H260V615.71H261V615.61H262V615.7H263V615.9H264V615.76H265V615.39H266V615.67H267V615.76H268V616.5H269V616.5H270V615.61H271V615.75H272V616.5H273V616.5H274V615.6H275V616.5H276V615.71H277V616.5H278V616.02H279V615.26H280V615.41H281V615.65H282V615.79H283V615.65H284V615.68H285V615.37H286V615.19H287V614H288V615.36H289V616.5H290V616.5H291V616.5H292V616.06H293V616H294V613H295V616.5H296V616.5H297V615.77H298V615.93H299V616.5H300V615.88H301V615.77H302V615.38H303V615.71H304V615.9H305V615.65H306V615.43H307V615.69H308V615.78H309V615.81H310V615.78H311V616.5H312V616.06H313V616.07H314V615.51H315V615.29H316V615.65H317V615.53H318V616.5H319V615.88H320V615.56H321V615.38H322V615.65H323V615.83H324V614H325V614H326V616.5H327V616.5H328V616.5H329V616.05H330V615.52H331V615.38H332V616.5H333V616.5H334V615.74H335V615.86H336V614.66H337V615.39H338V615.61H339V615.48H340V615.49H341V615.79H342V615.57H343V615.33H344V615.32H345V615.58H346V616.5H347V616.5H348V615.89H349V615.98H350V615.57H351V615.8H352V616.5H353V616.5H354V615.55H355V615.62H356V615.4H357V615.51H358V615.29H359V615.44H360V616.5H361V616.5H362V616.5H363V615.85H364V615.72H365V615.89H366V615.94H367V615.95H368V615.24H369V615.22H370V616.5H371V616.5H372V615.12H373V616.5H374V616.5H375V616.5H376V616.5H377V615.55H378V615.48H379V615.8H380V615.4H381V615.32H381.2V616.5Z" fill="#64bcd6"/>
<path d="M122,643.5V642.35H123V642.58H124V642.33H125V642.58H126V642.47H127V641.04H128V641.43H129V642.28H130V642.62H131V643.5H132V643.5H133V642.12H134V642.25H135V642.65H136V642.14H137V643.5H138V642.65H139V642.27H140V642.56H141V643.5H142V643.5H143V643.5H144V642.96H145V643.5H146V643.5H147V643.5H148V643.5H149V642.7H150V642.55H151V637.84H152V626H153V626H154V637.98H155V640.69H156V640.22H157V639.7H158V640.23H159V637H160V639.77H161V643.5H162V643.5H163V643.5H164V643.5H165V642.46H166V642.26H167V643.5H168V643.5H169V643.5H170V643.5H171V643.5H172V642.66H173V642.36H174V642.48H175V641.74H176V642.26H177V642.58H178V642.63H179V643.5H180V643.5H181V642.39H182V642.26H183V643.5H184V642.74H185V643.5H186V643.5H187V643.5H188V642.53H189V642.63H190V643.5H191V643.5H192V643.5H193V643.5H194V643.5H195V642.64H196V643.5H197V643.5H198V642.52H199V642.02H200V641.57H201V641.71H202V642.28H203V642.35H204V642.44H205V642.57H206V642.38H207V642.51H208V642.3H209V642.59H210V643.5H211V643.5H212V642.53H213V642.64H214V642.63H215V642.56H216V642.48H217V642.72H218V642.37H219V643.5H220V643.5H221V643.5H222V643.5H223V643.5H224V642.92H225V642.71H226V642.15H227V642.57H228V642.18H229V642.13H230V641.9H231V643.5H232V642.79H233V643.5H234V643.5H235V642.47H236V642.15H237V642.47H238V642.51H239V642.58H240V642.14H241V642.49H242V641.8H243V642.33H244V641.77H245V642.37H246V642.25H247V642.65H248V643.5H249V642.43H250V642.3H251V642.57H252V642.27H253V642.57H254V642.4H255V642.6H256V642.47H257V641.86H258V642.43H259V641.22H260V641.77H261V641.79H262V641.88H263V642.38H264V642.26H265V642.3H266V643.5H267V642.45H268V642.48H269V642.52H270V642.67H271V642.45H272V643.5H273V643.5H274V642.72H275V643.5H276V643.5H277V643.5H278V642.86H279V642.62H280V642.82H281V642.37H282V643.5H283V643.5H284V643.5H285V642.86H286V643.5H287V641.54H288V639H289V641.33H290V642.92H291V642.66H292V642.82H293V641.46H294V639H295V641.55H296V642.67H297V642.56H298V643.5H299V643.5H300V642.7H301V642.59H302V643.5H303V643.5H304V641.65H305V643.5H306V643.5H307V643.5H308V643.5H309V642.94H310V642.68H311V641.34H312V641.56H313V642.12H314V642.56H315V641.13H316V641.79H317V643.5H318V643.5H319V643.5H320V642.8H321V642.83H322V643.5H323V643.5H324V643.5H325V642.84H326V642.82H327V643.5H328V643.5H329V642.89H330V642.71H331V642.26H332V640.87H333V641.77H334V641.91H335V642.49H336V642.57H337V642.5H338V642.48H339V642.36H340V643.5H341V642.91H342V642.95H343V642.8H344V643.5H345V643.5H346V643.5H347V642.69H348V643.5H349V642.84H350V642.91H351V642.58H352V642.56H353V643.5H354V643.5H355V643.5H356V642.41H357V642.27H358V642.6H359V642.56H360V641H361V640.87H362V641.68H363V643.5H364V643.5H365V642.67H366V642.19H367V642.25H368V642.22H369V641.95H370V641.99H371V642.26H372V641.95H373V642.38H374V642.69H375V641.5H376V641.5H377V642.59H378V642.31H379V642.56H380V642.09H381V642.51H381.2V643.5Z" fill="#9fd3a1"/>
<path d="M122,643.5V642.35H123V642.58H124V642.33H125V642.58H126V642.47H127V641.04H128V641.43H129V642.28H130V642.62H131V643.5H132V643.5H133V642.12H134V642.25H135V642.65H136V642.14H137V643.5H138V642.65H139V642.27H140V642.56H141V643.5H142V643.5H143V643.5H144V642.96H145V643.5H146V643.5H147V643.5H148V643.5H149V642.7H150V642.55H151V637.84H152V629.5H153V629.5H154V637.98H155V640.69H156V640.22H157V639.7H158V640.23H159V637H160V639.77H161V643.5H162V643.5H163V643.5H164V643.5H165V642.46H166V642.26H167V643.5H168V643.5H169V643.5H170V643.5H171V643.5H172V642.66H173V642.36H174V642.48H175V641.74H176V642.26H177V642.58H178V642.63H179V643.5H180V643.5H181V642.39H182V642.26H183V643.5H184V642.74H185V643.5H186V643.5H187V643.5H188V642.53H189V642.63H190V643.5H191V643.5H192V643.5H193V643.5H194V643.5H195V642.64H196V643.5H197V643.5H198V642.52H199V642.02H200V641.57H201V641.71H202V642.28H203V642.35H204V642.44H205V642.57H206V642.38H207V642.51H208V642.3H209V642.59H210V643.5H211V643.5H212V642.53H213V642.64H214V642.63H215V642.56H216V642.48H217V642.72H218V642.37H219V643.5H220V643.5H221V643.5H222V643.5H223V643.5H224V642.92H225V642.71H226V642.15H227V642.57H228V642.18H229V642.13H230V641.9H231V643.5H232V642.79H233V643.5H234V643.5H235V642.47H236V642.15H237V642.47H238V642.51H239V642.58H240V642.14H241V642.49H242V641.8H243V642.33H244V641.77H245V642.37H246V642.25H247V642.65H248V643.5H249V642.43H250V642.3H251V642.57H252V642.27H253V642.57H254V642.4H255V642.6H256V642.47H257V641.86H258V642.43H259V641.22H260V641.77H261V641.79H262V641.88H263V642.38H264V642.26H265V642.3H266V643.5H267V642.45H268V642.48H269V642.52H270V642.67H271V642.45H272V643.5H273V643.5H274V642.72H275V643.5H276V643.5H277V643.5H278V642.86H279V642.62H280V642.82H281V642.37H282V643.5H283V643.5H284V643.5H285V642.86H286V643.5H287V641.54H288V639H289V641.33H290V642.92H291V642.66H292V642.82H293V641.46H294V639H295V641.55H296V642.67H297V642.56H298V643.5H299V643.5H300V642.7H301V642.59H302V643.5H303V643.5H304V641.65H305V643.5H306V643.5H307V643.5H308V643.5H309V642.94H310V642.68H311V641.34H312V641.56H313V642.12H314V642.56H315V641.13H316V641.79H317V643.5H318V643.5H319V643.5H320V642.8H321V642.83H322V643.5H323V643.5H324V643.5H325V642.84H326V642.82H327V643.5H328V643.5H329V642.89H330V642.71H331V642.26H332V640.87H333V641.77H334V641.91H335V642.49H336V642.57H337V642.5H338V642.48H339V642.36H340V643.5H341V642.91H342V642.95H343V642.8H344V643.5H345V643.5H346V643.5H347V642.69H348V643.5H349V642.84H350V642.91H351V642.58H352V642.56H353V643.5H354V643.5H355V643.5H356V642.41H357V642.27H358V642.6H359V642.56H360V641H361V640.87H362V641.68H363V643.5H364V643.5H365V642.67H366V642.19H367V642.25H368V642.22H369V641.95H370V641.99H371V642.26H372V641.95H373V642.38H374V642.69H375V641.5H376V641.5H377V642.59H378V642.31H379V642.56H380V642.09H381V642.51H381.2V643.5Z" fill="#2b982f"/>
<path d="M122,671.5V670.45H123V670.42H124V671.5H125V671.5H126V671.5H127V671.5H128V671.5H129V670.92H130V670.77H131V670.84H132V670.84H133V670.62H134V671.5H135V671.5H136V671.5H137V670.75H138V671.5H139V671.5H140V670.88H141V671.5H142V671.5H143V670.64H144V670.53H145V671.5H146V671.5H147V671.5H148V670.79H149V670.95H150V671.5H151V670.22H152V667.1H153V667.1H154V670.3H155V669.72H156V669.63H157V669.35H158V669.57H159V669.94H160V669.86H161V669.58H162V671.5H163V671.5H164V671.5H165V671.5H166V671.5H167V671.5H168V671.5H169V671.5H170V671H171V671.03H172V671.5H173V671.06H174V670.91H175V670.72H176V670.81H177V671.5H178V671.5H179V670.9H180V670.87H181V670.49H182V670.5H183V671.5H184V671.5H185V671.5H186V671.5H187V670.69H188V670.89H189V671.5H190V670.38H191V670.62H192V670.59H193V670.81H194V670.64H195V671.5H196V671.5H197V671.5H198V671.5H199V670.94H200V670.67H201V670.48H202V670.83H203V671.5H204V670.98H205V670.72H206V671.5H207V671.5H208V670.56H209V670.38H210V670.68H211V670.41H212V671.5H213V671.5H214V670.7H215V670.19H216V670.69H217V670.48H218V670.55H219V670.85H220V670.93H221V670.88H222V670.66H223V670.67H224V670.69H225V670.4H226V670.39H227V671.5H228V671.5H229V671.5H230V670.58H231V670.85H232V670.67H233V670.91H234V670.97H235V670.86H236V670.96H237V670.76H238V669.85H239V670.54H240V670.7H241V670.62H242V670.48H243V671.5H244V670.81H245V671.5H246V671.5H247V671.5H248V670.32H249V670.61H250V670.76H251V670.92H252V669.67H253V670H254V670.46H255V671.5H256V670.88H257V670.66H258V670.9H259V670.56H260V670.55H261V670.67H262V670.5H263V670.82H264V670.65H265V670.51H266V670.36H267V670.3H268V670.58H269V670.74H270V669.82H271V670.47H272V669.5H273V669.5H274V671.5H275V671.5H276V670.07H277V670.58H278V671.5H279V671.5H280V671.5H281V671.5H282V671.5H283V670.96H284V670.68H285V670.31H286V670.59H287V669H288V669H289V670.68H290V670.75H291V670.79H292V670.94H293V670.7H294V670.82H295V670.93H296V670.84H297V670.4H298V670.62H299V671.5H300V670.98H301V670.82H302V670.94H303V670.55H304V671.5H305V671.5H306V670.6H307V671.5H308V671H309V670.28H310V670.67H311V671.5H312V671.07H313V670.74H314V671.5H315V671.5H316V671.08H317V671.05H318V671.05H319V670.97H320V670.95H321V670.97H322V670.92H323V670.63H324V670.78H325V670.71H326V670.58H327V671.5H328V671.5H329V671.5H330V671H331V671.5H332V671.5H333V671.5H334V670.8H335V670.83H336V670.68H337V670.68H338V671.5H339V671.5H340V671.5H341V670.72H342V670.59H343V670.54H344V670.66H345V670.67H346V670.63H347V670.54H348V670.31H349V670.43H350V669.46H351V671.5H352V671.03H353V670.53H354V670.38H355V670.46H356V670.77H357V671.5H358V669.81H359V671.5H360V671.5H361V671.5H362V670.91H363V670.54H364V670.48H365V671.5H366V671.5H367V671.5H368V670.88H369V670.7H370V670.43H371V671.5H372V671.5H373V671.5H374V671.5H375V671.5H376V671.5H377V670.93H378V670.98H379V670.81H380V670.55H381V670.72H381.2V671.5Z" fill="#36a690"/>
<path d="M122,698.5V697.95H123V697.59H124V697.73H125V698.5H126V698.5H127V698.5H128V697.66H129V697.73H130V696.66H131V697.21H132V697.52H133V697.49H134V697.53H135V698.5H136V696.78H137V697.5H138V698.5H139V697.59H140V697.52H141V697.55H142V697.65H143V697.89H144V698H145V698.5H146V698.5H147V698.5H148V698.5H149V698.5H150V698.5H151V698.5H152V697.76H153V697.6H154V697.68H155V696.76H156V697.49H157V697.77H158V697.5H159V697.63H160V697.56H161V697.39H162V697.07H163V697.45H164V697.52H165V697.38H166V697.1H167V697.36H168V696.97H169V697.59H170V698.5H171V698.5H172V698.5H173V697.88H174V697.48H175V697.31H176V698.5H177V698.5H178V698.03H179V697.97H180V698.5H181V698.07H182V697.78H183V698.5H184V698.5H185V698.5H186V698.5H187V698.5H188V698.5H189V697.82H190V697.88H191V698H192V697.68H193V698.5H194V698.5H195V697.99H196V697.78H197V697.75H198V698.5H199V697.56H200V697.6H201V697.87H202V697.63H203V697.82H204V697.6H205V697.67H206V697.68H207V697.69H208V697.78H209V698.5H210V698.5H211V698.5H212V698.5H213V697.61H214V697.69H215V697.46H216V697.43H217V697.44H218V697.78H219V696.8H220V697.44H221V697.36H222V697.75H223V697.58H224V697.45H225V697.29H226V697.17H227V697.29H228V697.53H229V697.47H230V697.5H231V697.6H232V697.32H233V697.7H234V698.5H235V698.5H236V698.5H237V698.5H238V698.5H239V698.5H240V698.5H241V698.5H242V698.5H243V698.5H244V698.5H245V697.86H246V697.8H247V697.92H248V697.99H249V697.64H250V697.86H251V696.98H252V697.47H253V697.75H254V697.66H255V698.5H256V698.5H257V698.5H258V698.5H259V698.5H260V698.5H261V698.5H262V698.5H263V698.5H264V697.98H265V697.91H266V697.82H267V697.85H268V697.8H269V697.94H270V697.83H271V697.93H272V698.5H273V698.5H274V698.5H275V696.98H276V697.45H277V697.8H278V697.95H279V697.75H280V697.72H281V697.92H282V697.63H283V697.63H284V697.51H285V697.8H286V697.74H287V697.89H288V698.5H289V698.5H290V697.83H291V697.81H292V697.85H293V697.49H294V697.69H295V698.5H296V698.5H297V697.93H298V697.72H299V697.87H300V698.5H301V698.5H302V698H303V697.7H304V697.78H305V697.84H306V697.55H307V697.71H308V697.58H309V697.74H310V697.53H311V697.71H312V697.4H313V697.54H314V697.84H315V697.84H316V698.5H317V698.5H318V698.5H319V697.91H320V697.85H321V697.51H322V696.75H323V697.37H324V697.24H325V698.5H326V697.71H327V697.45H328V698.5H329V697.94H330V698.5H331V698.5H332V697.94H333V697.68H334V697.73H335V697.83H336V698.5H337V698.07H338V697.79H339V697.79H340V696.64H341V697H342V698.5H343V698.5H344V697.74H345V697.71H346V697.76H347V697.92H348V698.5H349V698.5H350V697.56H351V697.81H352V697.94H353V697.87H354V698.5H355V698.5H356V698.5H357V698.5H358V698.5H359V698.5H360V697.54H361V697.47H362V696.46H363V698.5H364V698.5H365V698.5H366V697.82H367V698.5H368V698.5H369V697.88H370V697.99H371V697.55H372V697.58H373V697.78H374V697.45H375V697.69H376V697.51H377V698.5H378V698.06H379V698.5H380V698.5H381V698.5H381.2V698.5Z" fill="#86c43a"/>
<text x="129.3" y="707.9" font-size="7.6" fill="#231f20" stroke="#231f20">MDM2</text>
<line x1="154.9" y1="705.2" x2="379.9" y2="705.2" stroke="#16167f" stroke-width="0.8"/>
<path d="M164.9,703.6L166.6,705.2L164.9,706.8M169.5,703.6L171.2,705.2L169.5,706.8M174.1,703.6L175.8,705.2L174.1,706.8M178.7,703.6L180.4,705.2L178.7,706.8M183.3,703.6L185,705.2L183.3,706.8M187.9,703.6L189.6,705.2L187.9,706.8M192.5,703.6L194.2,705.2L192.5,706.8M197.1,703.6L198.8,705.2L197.1,706.8M201.7,703.6L203.4,705.2L201.7,706.8M206.3,703.6L208,705.2L206.3,706.8M210.9,703.6L212.6,705.2L210.9,706.8M215.5,703.6L217.2,705.2L215.5,706.8M220.1,703.6L221.8,705.2L220.1,706.8M224.7,703.6L226.4,705.2L224.7,706.8M229.3,703.6L231,705.2L229.3,706.8M233.9,703.6L235.6,705.2L233.9,706.8M238.5,703.6L240.2,705.2L238.5,706.8M243.1,703.6L244.8,705.2L243.1,706.8M247.7,703.6L249.4,705.2L247.7,706.8M252.3,703.6L254,705.2L252.3,706.8M256.9,703.6L258.6,705.2L256.9,706.8M261.5,703.6L263.2,705.2L261.5,706.8M266.1,703.6L267.8,705.2L266.1,706.8M270.7,703.6L272.4,705.2L270.7,706.8M275.3,703.6L277,705.2L275.3,706.8M279.9,703.6L281.6,705.2L279.9,706.8M284.5,703.6L286.2,705.2L284.5,706.8M289.1,703.6L290.8,705.2L289.1,706.8M293.7,703.6L295.4,705.2L293.7,706.8M298.3,703.6L300,705.2L298.3,706.8M302.9,703.6L304.6,705.2L302.9,706.8M307.5,703.6L309.2,705.2L307.5,706.8M312.1,703.6L313.8,705.2L312.1,706.8M316.7,703.6L318.4,705.2L316.7,706.8M321.3,703.6L323,705.2L321.3,706.8M325.9,703.6L327.6,705.2L325.9,706.8M330.5,703.6L332.2,705.2L330.5,706.8M335.1,703.6L336.8,705.2L335.1,706.8" fill="none" stroke="#16167f" stroke-width="0.7"/>
<rect x="154.9" y="701.1" width="1.9" height="7.9" fill="#16167f"/>
<rect x="160.95" y="701.1" width="0.9" height="7.9" fill="#16167f"/>
<rect x="186.85" y="701.1" width="0.9" height="7.9" fill="#16167f"/>
<rect x="206.45" y="701.1" width="0.9" height="7.9" fill="#16167f"/>
<rect x="227.85" y="701.1" width="0.9" height="7.9" fill="#16167f"/>
<rect x="252.55" y="701.1" width="0.9" height="7.9" fill="#16167f"/>
<rect x="278.95" y="701.1" width="0.9" height="7.9" fill="#16167f"/>
<rect x="320.65" y="701.1" width="0.9" height="7.9" fill="#16167f"/>
<rect x="325.95" y="701.1" width="0.9" height="7.9" fill="#16167f"/>
<rect x="342" y="701" width="3.8" height="8.6" fill="#16167f"/>
<rect x="345.8" y="703" width="34.1" height="4.7" fill="#16167f"/>
<text x="378.6" y="489.8" font-size="12" fill="#231f20" stroke="#231f20" font-weight="bold">F</text>
<line x1="439.9" y1="533.5" x2="636.3" y2="533.5" stroke="#bcbcbc" stroke-width="1"/>
<line x1="439.9" y1="560.5" x2="636.3" y2="560.5" stroke="#a9c5e8" stroke-width="1"/>
<line x1="439.9" y1="588.5" x2="636.3" y2="588.5" stroke="#b2ddf2" stroke-width="1"/>
<line x1="439.9" y1="615.5" x2="636.3" y2="615.5" stroke="#bce2ee" stroke-width="1"/>
<line x1="439.9" y1="643.5" x2="636.3" y2="643.5" stroke="#92cf95" stroke-width="1"/>
<line x1="439.9" y1="670.5" x2="636.3" y2="670.5" stroke="#a9dad0" stroke-width="1"/>
<line x1="439.9" y1="698.5" x2="636.3" y2="698.5" stroke="#b8dc85" stroke-width="1"/>
<rect x="584.5" y="513.5" width="30" height="185" fill="none" stroke="#eec6e0" stroke-width="1"/>
<text x="443.4" y="493.9" font-size="7.35" fill="#231f20" stroke="#231f20" text-anchor="end">Scale</text>
<text x="445.1" y="504.4" font-size="7.4" fill="#231f20" stroke="#231f20" text-anchor="end">chr22:</text>
<line x1="444.5" y1="487.5" x2="444.5" y2="698.8" stroke="#7a7a7a" stroke-width="1"/>
<text x="469.2" y="505" font-size="7.65" fill="#231f20" stroke="#231f20">30,285,000</text>
<line x1="503.4" y1="497.3" x2="503.4" y2="506.3" stroke="#555" stroke-width="0.8"/>
<text x="571.4" y="505" font-size="7.65" fill="#231f20" stroke="#231f20">30,290,000</text>
<line x1="605.4" y1="497.3" x2="605.4" y2="506.3" stroke="#555" stroke-width="0.8"/>
<text x="439.8" y="513.9" font-size="7" fill="#b0b0b0" stroke="#b0b0b0" text-anchor="end">150</text>
<text x="437.8" y="532" font-size="7" fill="#b0b0b0" stroke="#b0b0b0" text-anchor="end">0</text>
<line x1="442.6" y1="511.5" x2="444" y2="511.5" stroke="#b0b0b0" stroke-width="1"/>
<text x="439.8" y="541.35" font-size="7" fill="#3e74be" stroke="#3e74be" text-anchor="end">100</text>
<text x="437.8" y="559.45" font-size="7" fill="#3e74be" stroke="#3e74be" text-anchor="end">0</text>
<line x1="442.6" y1="538.5" x2="444" y2="538.5" stroke="#3e74be" stroke-width="1"/>
<text x="439.8" y="568.8" font-size="7" fill="#52b3e4" stroke="#52b3e4" text-anchor="end">100</text>
<text x="437.8" y="586.9" font-size="7" fill="#52b3e4" stroke="#52b3e4" text-anchor="end">0</text>
<line x1="442.6" y1="566.5" x2="444" y2="566.5" stroke="#52b3e4" stroke-width="1"/>
<text x="439.8" y="596.25" font-size="7" fill="#74c3da" stroke="#74c3da" text-anchor="end">100</text>
<text x="437.8" y="614.35" font-size="7" fill="#74c3da" stroke="#74c3da" text-anchor="end">0</text>
<line x1="442.6" y1="593.5" x2="444" y2="593.5" stroke="#74c3da" stroke-width="1"/>
<text x="439.8" y="623.7" font-size="7" fill="#3ca53c" stroke="#3ca53c" text-anchor="end">150</text>
<text x="437.8" y="641.8" font-size="7" fill="#3ca53c" stroke="#3ca53c" text-anchor="end">0</text>
<line x1="442.6" y1="620.5" x2="444" y2="620.5" stroke="#3ca53c" stroke-width="1"/>
<text x="439.8" y="651.15" font-size="7" fill="#45af9a" stroke="#45af9a" text-anchor="end">150</text>
<text x="437.8" y="669.25" font-size="7" fill="#45af9a" stroke="#45af9a" text-anchor="end">0</text>
<line x1="442.6" y1="648.5" x2="444" y2="648.5" stroke="#45af9a" stroke-width="1"/>
<text x="439.8" y="678.6" font-size="7" fill="#8dc642" stroke="#8dc642" text-anchor="end">150</text>
<text x="437.8" y="696.7" font-size="7" fill="#8dc642" stroke="#8dc642" text-anchor="end">0</text>
<line x1="442.6" y1="675.5" x2="444" y2="675.5" stroke="#8dc642" stroke-width="1"/>
<path d="M445,533.5V532.97H446.5V532.84H448V532.88H449.5V532.68H451V532.78H452.5V533.5H454V533.5H455.5V533.5H457V533.05H458.5V533.08H460V533.03H461.5V533.5H463V533.5H464.5V533.1H466V532.17H467.5V532.23H469V533.09H470.5V533.03H472V532.96H473.5V532.57H475V533.5H476.5V533.5H478V532.99H479.5V533.5H481V532.85H482.5V533.5H484V532.81H485.5V532.61H487V532.48H488.5V532.83H490V532.99H491.5V533.5H493V533.5H494.5V532.84H496V532.54H497.5V533.5H499V533.5H500.5V533.5H502V533.5H503.5V533.5H505V533.02H506.5V532.68H508V532.88H509.5V533.5H511V533.06H512.5V532.85H514V533.5H515.5V533.5H517V533.1H518.5V532.82H520V532.53H521.5V532.87H523V532.76H524.5V532.93H526V533.04H527.5V532.99H529V532.64H530.5V533.5H532V533.5H533.5V532.75H535V533.5H536.5V533.5H538V533.5H539.5V532.99H541V533.06H542.5V532.93H544V533.5H545.5V532.67H547V533.5H548.5V533.5H550V533.5H551.5V532.92H553V532.9H554.5V532.81H556V533.5H557.5V532.93H559V532.41H560.5V532.44H562V532.51H563.5V533.5H565V533.5H566.5V533.5H568V532.93H569.5V533.5H571V533.5H572.5V533.5H574V533.08H575.5V532.78H577V532.83H578.5V533.5H580V533.5H581.5V532.92H583V532.89H584.5V532.73H586V532.92H587.5V533.5H589V533.5H590.5V532.7H592V532.9H593.5V532.2H595V531.5H596.5V531.72H598V532.37H599.5V532.76H601V533.2H602.5V533.5H604V533.09H605.5V533.12H607V533.5H608.5V532.56H610V532.59H611.5V533.04H613V533.5H614.5V533.5H616V533.03H617.5V532.19H619V532.65H620.5V532.47H622V532.84H623.5V533.5H625V533.5H626.5V533.5H628V533.5H629.5V533.11H631V532.73H632.5V532.64H634V532.91H635.5V532.68H636.3V533.5Z" fill="#9a9a9a"/>
<path d="M445,560.5V559.7H446.5V560.5H448V560.5H449.5V560.5H451V560.5H452.5V560.5H454V560.5H455.5V559.83H457V560.5H458.5V560.5H460V560.5H461.5V560.5H463V560.5H464.5V559.34H466V559.5H467.5V558H469V560.5H470.5V559.67H472V560.5H473.5V560.5H475V559.22H476.5V558.77H478V558.73H479.5V558.98H481V560.5H482.5V559.02H484V559.28H485.5V559.55H487V559.22H488.5V560.5H490V560.5H491.5V560.5H493V560.5H494.5V560.5H496V560.5H497.5V560.5H499V560.5H500.5V559.02H502V559H503.5V558.9H505V559.31H506.5V558.92H508V559.23H509.5V559.46H511V559.57H512.5V559.51H514V559.39H515.5V560.5H517V560.5H518.5V558.96H520V558.62H521.5V557.5H523V558.32H524.5V560.5H526V560.5H527.5V560.5H529V559.7H530.5V560.5H532V560.5H533.5V560.5H535V559.73H536.5V560.5H538V559.7H539.5V559.75H541V559.23H542.5V556.5H544V558.81H545.5V560.5H547V560.5H548.5V559.2H550V560.5H551.5V560.5H553V560.5H554.5V559.83H556V560.5H557.5V558.58H559V559.35H560.5V558.45H562V558.63H563.5V560.5H565V560.5H566.5V559.37H568V559.38H569.5V560.5H571V559.75H572.5V560.5H574V560.5H575.5V560.5H577V560.5H578.5V558.04H580V560.5H581.5V560.5H583V560.5H584.5V559.5H586V559.32H587.5V559.4H589V559.47H590.5V559.69H592V559.79H593.5V558.34H595V556.63H596.5V554.32H598V551.67H599.5V550.5H601V552.79H602.5V556.74H604V559.42H605.5V560.5H607V560.5H608.5V559.72H610V559.56H611.5V559.37H613V560.5H614.5V560.5H616V560.5H617.5V559.5H619V560.5H620.5V560.5H622V560.5H623.5V559.1H625V560.5H626.5V560.5H628V560.5H629.5V560.5H631V560.5H632.5V559.74H634V559.71H635.5V559.56H636.3V560.5Z" fill="#3470bb"/>
<path d="M445,588.5V588.5H446.5V586.24H448V585.96H449.5V587.38H451V587.26H452.5V587.2H454V586.82H455.5V588.5H457V587.67H458.5V587.5H460V587.41H461.5V587.31H463V587H464.5V587.17H466V587.19H467.5V587.56H469V587.05H470.5V587.02H472V585.93H473.5V585H475V586.36H476.5V586.76H478V587.39H479.5V587.65H481V588.5H482.5V588.5H484V588.5H485.5V587.5H487V587.48H488.5V588.5H490V587.08H491.5V586.73H493V587.2H494.5V586.84H496V586.77H497.5V587.37H499V587.44H500.5V587.58H502V587.59H503.5V588.5H505V587.8H506.5V588.5H508V587.78H509.5V588.5H511V588.5H512.5V587.06H514V587.11H515.5V586.9H517V587.14H518.5V587.47H520V587.6H521.5V588.5H523V588.5H524.5V588.5H526V587.79H527.5V588.5H529V588.5H530.5V588.5H532V588.5H533.5V588.5H535V587.82H536.5V588.5H538V588.5H539.5V588.5H541V588.5H542.5V587.24H544V587.43H545.5V588.5H547V587.44H548.5V587.55H550V587.02H551.5V586.86H553V587.11H554.5V588.5H556V588.5H557.5V588.5H559V587.25H560.5V588.5H562V586.6H563.5V586.87H565V588.5H566.5V588.5H568V588.5H569.5V587.86H571V587.03H572.5V587.02H574V588.5H575.5V588.5H577V587.68H578.5V587.54H580V587.64H581.5V586.97H583V586.43H584.5V588.5H586V587.78H587.5V587.46H589V587.59H590.5V587.69H592V587.17H593.5V586.89H595V586.25H596.5V585.5H598V585.5H599.5V587.32H601V586.77H602.5V585.5H604V587.22H605.5V587.2H607V587.17H608.5V587.41H610V587.69H611.5V588.5H613V587.46H614.5V587.7H616V588.5H617.5V587.56H619V587.28H620.5V587.55H622V587.45H623.5V587.2H625V587.39H626.5V587.24H628V587.28H629.5V586.91H631V587.07H632.5V588.5H634V587.76H635.5V587.51H636.3V588.5Z" fill="#48aee0"/>
<path d="M445,615.5V614.42H446.5V615.5H448V615.5H449.5V615.5H451V615.5H452.5V615.5H454V615.5H455.5V614.75H457V614.3H458.5V614.48H460V615.5H461.5V615.5H463V615.5H464.5V615.5H466V615.5H467.5V615.5H469V615.5H470.5V615.5H472V615.5H473.5V614.76H475V615.5H476.5V615.5H478V614.82H479.5V615.5H481V615.5H482.5V613.71H484V614.28H485.5V613.86H487V613.56H488.5V612.91H490V613.28H491.5V613.28H493V614.01H494.5V613.41H496V613.55H497.5V615.5H499V614.71H500.5V615.5H502V615.5H503.5V615.5H505V614.89H506.5V615.5H508V615.5H509.5V615.5H511V614.85H512.5V614.9H514V614.54H515.5V614.69H517V614.18H518.5V615.5H520V615.5H521.5V614.3H523V614H524.5V614.22H526V615.5H527.5V613.9H529V614.14H530.5V614.22H532V614.21H533.5V613.57H535V613.53H536.5V612.7H538V613.34H539.5V613.01H541V613.02H542.5V615.5H544V615.5H545.5V615.5H547V614.43H548.5V613.95H550V614.23H551.5V613.19H553V613.82H554.5V615.5H556V614.88H557.5V614.9H559V614.78H560.5V615.5H562V615.5H563.5V615.5H565V614.74H566.5V614.41H568V615.5H569.5V615.5H571V615.5H572.5V614.26H574V615.5H575.5V615.5H577V614.77H578.5V614.49H580V615.5H581.5V615.5H583V614.84H584.5V614.75H586V614.72H587.5V614.58H589V614.74H590.5V614.73H592V614.29H593.5V614.4H595V614.36H596.5V615.5H598V614.75H599.5V614.4H601V614.04H602.5V614.53H604V615.5H605.5V615.5H607V615.5H608.5V615.5H610V615.5H611.5V615.5H613V614.45H614.5V615.5H616V615.5H617.5V615.5H619V613.02H620.5V614.01H622V614.19H623.5V614.23H625V614.27H626.5V613.9H628V615.5H629.5V615.5H631V615.5H632.5V614.55H634V615.5H635.5V615.5H636.3V615.5Z" fill="#64bcd6"/>
<path d="M445,643.5V643.5H446.5V643.5H448V643.5H449.5V643.5H451V642.57H452.5V643.5H454V642.32H455.5V642.66H457V642.77H458.5V642.65H460V643.5H461.5V642.87H463V642.2H464.5V643.5H466V643.5H467.5V642.73H469V642.43H470.5V642.16H472V642.59H473.5V642.62H475V643.5H476.5V643.5H478V642.7H479.5V642.65H481V641.79H482.5V641.78H484V642.04H485.5V642.09H487V643.5H488.5V643.5H490V642.9H491.5V642.75H493V642.71H494.5V642.55H496V642.34H497.5V642.09H499V642.03H500.5V643.5H502V642.38H503.5V642.28H505V642H506.5V643.5H508V643.5H509.5V642.87H511V643.5H512.5V643.5H514V642.34H515.5V643.5H517V643.5H518.5V642.58H520V642.12H521.5V643.5H523V643.5H524.5V642.31H526V642.25H527.5V643.5H529V643.5H530.5V643.5H532V643.5H533.5V643.5H535V642.74H536.5V642.17H538V641.87H539.5V641.72H541V642.06H542.5V642.54H544V642.75H545.5V642.78H547V642.45H548.5V642.52H550V643.5H551.5V643.5H553V643.5H554.5V642.88H556V643.5H557.5V642.2H559V642.82H560.5V638.86H562V637H563.5V639.78H565V641.83H566.5V641.34H568V640.5H569.5V641.31H571V641.38H572.5V642.2H574V642.49H575.5V642.41H577V643.5H578.5V643.5H580V643.5H581.5V642.71H583V642.23H584.5V643.5H586V642.33H587.5V643.5H589V643.14H590.5V642.07H592V641.32H593.5V639.78H595V638.93H596.5V636.5H598V636.5H599.5V629.7H601V639.95H602.5V641.67H604V642.53H605.5V643.5H607V643.5H608.5V643.5H610V642.41H611.5V642.47H613V642.28H614.5V643.5H616V643.5H617.5V643.5H619V642.31H620.5V640.5H622V640.5H623.5V641.15H625V641.91H626.5V642.42H628V642.43H629.5V642.29H631V642.44H632.5V642.69H634V642.3H635.5V642.47H636.3V643.5Z" fill="#9fd3a1"/>
<path d="M445,643.5V643.5H446.5V643.5H448V643.5H449.5V643.5H451V642.57H452.5V643.5H454V642.32H455.5V642.66H457V642.77H458.5V642.65H460V643.5H461.5V642.87H463V642.2H464.5V643.5H466V643.5H467.5V642.73H469V642.43H470.5V642.16H472V642.59H473.5V642.62H475V643.5H476.5V643.5H478V642.7H479.5V642.65H481V641.79H482.5V641.78H484V642.04H485.5V642.09H487V643.5H488.5V643.5H490V642.9H491.5V642.75H493V642.71H494.5V642.55H496V642.34H497.5V642.09H499V642.03H500.5V643.5H502V642.38H503.5V642.28H505V642H506.5V643.5H508V643.5H509.5V642.87H511V643.5H512.5V643.5H514V642.34H515.5V643.5H517V643.5H518.5V642.58H520V642.12H521.5V643.5H523V643.5H524.5V642.31H526V642.25H527.5V643.5H529V643.5H530.5V643.5H532V643.5H533.5V643.5H535V642.74H536.5V642.17H538V641.87H539.5V641.72H541V642.06H542.5V642.54H544V642.75H545.5V642.78H547V642.45H548.5V642.52H550V643.5H551.5V643.5H553V643.5H554.5V642.88H556V643.5H557.5V642.2H559V642.82H560.5V638.86H562V637H563.5V639.78H565V641.83H566.5V641.34H568V640.5H569.5V641.31H571V641.38H572.5V642.2H574V642.49H575.5V642.41H577V643.5H578.5V643.5H580V643.5H581.5V642.71H583V642.23H584.5V643.5H586V642.33H587.5V643.5H589V643.14H590.5V642.07H592V641.32H593.5V639.78H595V638.93H596.5V636.5H598V636.5H599.5V632.5H601V639.95H602.5V641.67H604V642.53H605.5V643.5H607V643.5H608.5V643.5H610V642.41H611.5V642.47H613V642.28H614.5V643.5H616V643.5H617.5V643.5H619V642.31H620.5V640.5H622V640.5H623.5V641.15H625V641.91H626.5V642.42H628V642.43H629.5V642.29H631V642.44H632.5V642.69H634V642.3H635.5V642.47H636.3V643.5Z" fill="#2b982f"/>
<path d="M445,670.5V669.72H446.5V669.82H448V668.41H449.5V670.5H451V670.5H452.5V669.72H454V669.78H455.5V669.49H457V669.64H458.5V669.65H460V669.67H461.5V669.47H463V669.25H464.5V669.51H466V669.35H467.5V669.09H469V669.49H470.5V669.64H472V669.5H473.5V669.39H475V669.33H476.5V669.35H478V669.55H479.5V669.57H481V670.5H482.5V670H484V669.98H485.5V669.53H487V669.42H488.5V669.64H490V670.5H491.5V670.5H493V669.89H494.5V669.42H496V670.5H497.5V670.5H499V670.5H500.5V669.73H502V669.77H503.5V669.56H505V670.5H506.5V670.5H508V670.5H509.5V669.24H511V669.57H512.5V669.26H514V670.5H515.5V670.5H517V670.5H518.5V669.7H520V669.77H521.5V670.5H523V670.5H524.5V670.5H526V668.89H527.5V670.5H529V670.5H530.5V670.5H532V670.5H533.5V670.5H535V670.01H536.5V670.5H538V670.5H539.5V669.62H541V669.81H542.5V670.5H544V670.5H545.5V670.5H547V669.86H548.5V668.91H550V669.26H551.5V669.5H553V669.18H554.5V668.77H556V670.5H557.5V670.5H559V670.5H560.5V670.5H562V670.5H563.5V670.5H565V670.5H566.5V670.5H568V670.5H569.5V670H571V670.5H572.5V670.5H574V670.5H575.5V670.5H577V670.5H578.5V670.5H580V670.5H581.5V668.5H583V669.69H584.5V669.84H586V669.81H587.5V669.35H589V670.5H590.5V670.5H592V670.5H593.5V668.55H595V669.5H596.5V669.1H598V669.43H599.5V668.1H601V669.24H602.5V668.68H604V669.17H605.5V668.89H607V669.4H608.5V669.22H610V670.5H611.5V670.5H613V670.5H614.5V669.64H616V669.49H617.5V669.16H619V669.63H620.5V669.23H622V669.23H623.5V669.09H625V669.12H626.5V669.4H628V670.5H629.5V670.01H631V670.5H632.5V670.5H634V670.5H635.5V670.5H636.3V670.5Z" fill="#36a690"/>
<path d="M445,698.5V697.79H446.5V698.5H448V698.5H449.5V698.5H451V697.78H452.5V696.59H454V697.01H455.5V698.5H457V698.5H458.5V698H460V696.69H461.5V697.13H463V697.27H464.5V696.43H466V698.5H467.5V698.5H469V697.85H470.5V698.5H472V697.62H473.5V697.49H475V697.73H476.5V698.5H478V698.5H479.5V698.5H481V697.94H482.5V697.77H484V697.72H485.5V698.5H487V697.99H488.5V697.72H490V698.5H491.5V698.5H493V698.5H494.5V698.06H496V697.83H497.5V696.68H499V696.5H500.5V698.5H502V698.5H503.5V697.55H505V697.55H506.5V697.59H508V697.31H509.5V698.5H511V698.5H512.5V698.04H514V697.94H515.5V698.5H517V697.91H518.5V698.5H520V698.5H521.5V698.5H523V698.5H524.5V698.01H526V697.87H527.5V697.95H529V697.15H530.5V697.32H532V698.5H533.5V698.5H535V698.5H536.5V698.5H538V698.5H539.5V698.5H541V698.5H542.5V698.5H544V697.84H545.5V697.69H547V698.5H548.5V698.5H550V698.5H551.5V697.91H553V698.5H554.5V696.5H556V698.06H557.5V697.77H559V698.5H560.5V698.5H562V698.5H563.5V697.53H565V698.5H566.5V698.5H568V698.5H569.5V698.05H571V697.73H572.5V698.5H574V698.5H575.5V697.52H577V696.89H578.5V697.12H580V697.42H581.5V697.77H583V697.75H584.5V697.83H586V697.92H587.5V697.99H589V697.93H590.5V697.59H592V697.27H593.5V697.71H595V697.84H596.5V697.66H598V698.5H599.5V698.5H601V698.5H602.5V698.5H604V698.5H605.5V698.5H607V698.5H608.5V698.5H610V698.07H611.5V697.8H613V698.5H614.5V698.5H616V698.5H617.5V697.86H619V697.77H620.5V698.5H622V698.5H623.5V698.5H625V697.93H626.5V697.68H628V697.62H629.5V697.46H631V697.52H632.5V698.5H634V698.5H635.5V698.5H636.3V698.5Z" fill="#86c43a"/>
<text x="470.7" y="709" font-size="7.4" fill="#231f20" stroke="#231f20">CASTOR1</text>
<line x1="504.9" y1="706.2" x2="594.8" y2="706.2" stroke="#16167f" stroke-width="0.8"/>
<path d="M558.1,704.6L556.4,706.2L558.1,707.8M562.9,704.6L561.2,706.2L562.9,707.8M567.7,704.6L566,706.2L567.7,707.8M572.5,704.6L570.8,706.2L572.5,707.8M577.3,704.6L575.6,706.2L577.3,707.8M582.1,704.6L580.4,706.2L582.1,707.8M586.9,704.6L585.2,706.2L586.9,707.8M591.7,704.6L590,706.2L591.7,707.8" fill="none" stroke="#16167f" stroke-width="0.7"/>
<rect x="504.9" y="703.6" width="11.2" height="5.1" fill="#16167f"/>
<rect x="516.1" y="701.7" width="2" height="8.6" fill="#16167f"/>
<rect x="520.2" y="701.7" width="1" height="8.6" fill="#16167f"/>
<rect x="523.2" y="701.7" width="2.1" height="8.6" fill="#16167f"/>
<rect x="530" y="701.7" width="1.4" height="8.6" fill="#16167f"/>
<rect x="540.2" y="701.7" width="3.1" height="8.6" fill="#16167f"/>
<rect x="546.7" y="701.7" width="2.5" height="8.6" fill="#16167f"/>
<rect x="550.8" y="701.7" width="4.1" height="8.6" fill="#16167f"/>
<rect x="579.5" y="701.7" width="1" height="8.6" fill="#16167f"/>
<rect x="592.7" y="701.7" width="2.1" height="8.6" fill="#16167f"/>
</svg></body></html>
